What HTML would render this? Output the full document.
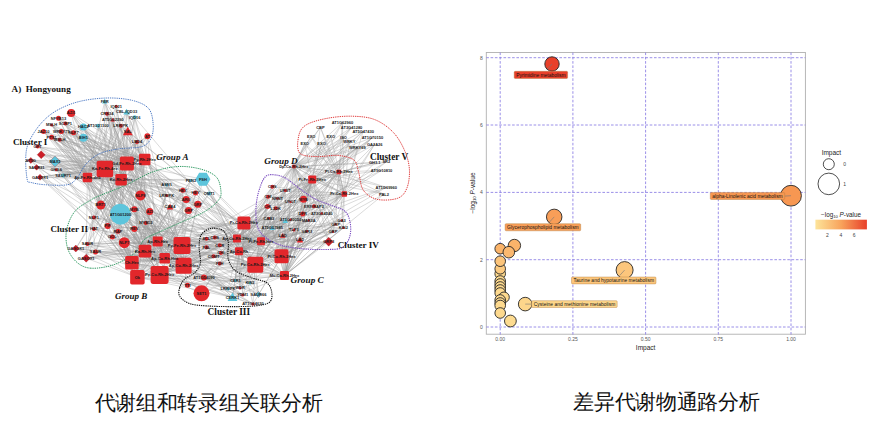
<!DOCTYPE html>
<html><head><meta charset="utf-8"><style>
html,body{margin:0;padding:0;background:#fff;width:877px;height:433px;overflow:hidden}
svg{position:absolute;left:0;top:0}
.cap{position:absolute;font-family:"Liberation Sans",sans-serif;font-size:21px;letter-spacing:-0.3px;font-weight:300;color:#111;white-space:nowrap;line-height:1}
</style></head><body>
<svg width="877" height="433" viewBox="0 0 877 433">
<g stroke="#9a9a9a" stroke-width="0.5" stroke-opacity="0.72">
<line x1="71.2" y1="113.1" x2="87.4" y2="177.4"/>
<line x1="71.2" y1="113.1" x2="126.9" y2="163.6"/>
<line x1="71.2" y1="113.1" x2="144.7" y2="159.6"/>
<line x1="71.2" y1="113.1" x2="104.9" y2="168.9"/>
<line x1="71.2" y1="113.1" x2="145.0" y2="251.2"/>
<line x1="71.2" y1="113.1" x2="182.0" y2="245.5"/>
<line x1="71.2" y1="113.1" x2="121.1" y2="179.7"/>
<line x1="58.5" y1="118.2" x2="87.4" y2="177.4"/>
<line x1="58.5" y1="118.2" x2="126.9" y2="163.6"/>
<line x1="58.5" y1="118.2" x2="144.7" y2="159.6"/>
<line x1="58.5" y1="118.2" x2="131.9" y2="262.8"/>
<line x1="58.5" y1="118.2" x2="104.9" y2="168.9"/>
<line x1="58.5" y1="118.2" x2="121.1" y2="179.7"/>
<line x1="65.4" y1="123.5" x2="87.4" y2="177.4"/>
<line x1="65.4" y1="123.5" x2="126.9" y2="163.6"/>
<line x1="65.4" y1="123.5" x2="159.6" y2="275.0"/>
<line x1="65.4" y1="123.5" x2="144.7" y2="159.6"/>
<line x1="65.4" y1="123.5" x2="104.9" y2="168.9"/>
<line x1="65.4" y1="123.5" x2="121.1" y2="179.7"/>
<line x1="61.3" y1="131.6" x2="87.4" y2="177.4"/>
<line x1="61.3" y1="131.6" x2="126.9" y2="163.6"/>
<line x1="61.3" y1="131.6" x2="144.7" y2="159.6"/>
<line x1="61.3" y1="131.6" x2="131.9" y2="262.8"/>
<line x1="61.3" y1="131.6" x2="104.9" y2="168.9"/>
<line x1="61.3" y1="131.6" x2="182.0" y2="245.5"/>
<line x1="61.3" y1="131.6" x2="121.1" y2="179.7"/>
<line x1="73.5" y1="132.7" x2="126.9" y2="163.6"/>
<line x1="73.5" y1="132.7" x2="87.4" y2="177.4"/>
<line x1="73.5" y1="132.7" x2="144.7" y2="159.6"/>
<line x1="73.5" y1="132.7" x2="104.9" y2="168.9"/>
<line x1="73.5" y1="132.7" x2="157.7" y2="241.5"/>
<line x1="73.5" y1="132.7" x2="121.1" y2="179.7"/>
<line x1="73.5" y1="132.7" x2="183.6" y2="265.8"/>
<line x1="43.5" y1="131.6" x2="126.9" y2="163.6"/>
<line x1="43.5" y1="131.6" x2="159.6" y2="275.0"/>
<line x1="43.5" y1="131.6" x2="87.4" y2="177.4"/>
<line x1="43.5" y1="131.6" x2="144.7" y2="159.6"/>
<line x1="43.5" y1="131.6" x2="104.9" y2="168.9"/>
<line x1="43.5" y1="131.6" x2="182.0" y2="245.5"/>
<line x1="43.5" y1="131.6" x2="183.6" y2="265.8"/>
<line x1="59.7" y1="139.7" x2="87.4" y2="177.4"/>
<line x1="59.7" y1="139.7" x2="126.9" y2="163.6"/>
<line x1="59.7" y1="139.7" x2="144.7" y2="159.6"/>
<line x1="59.7" y1="139.7" x2="131.9" y2="262.8"/>
<line x1="59.7" y1="139.7" x2="104.9" y2="168.9"/>
<line x1="59.7" y1="139.7" x2="145.0" y2="251.2"/>
<line x1="59.7" y1="139.7" x2="121.1" y2="179.7"/>
<line x1="59.7" y1="139.7" x2="183.6" y2="265.8"/>
<line x1="51.6" y1="137.3" x2="126.9" y2="163.6"/>
<line x1="51.6" y1="137.3" x2="159.6" y2="275.0"/>
<line x1="51.6" y1="137.3" x2="87.4" y2="177.4"/>
<line x1="51.6" y1="137.3" x2="144.7" y2="159.6"/>
<line x1="51.6" y1="137.3" x2="104.9" y2="168.9"/>
<line x1="51.6" y1="137.3" x2="121.1" y2="179.7"/>
<line x1="51.6" y1="137.3" x2="164.7" y2="258.2"/>
<line x1="51.6" y1="137.3" x2="183.6" y2="265.8"/>
<line x1="51.6" y1="125.1" x2="126.9" y2="163.6"/>
<line x1="51.6" y1="125.1" x2="87.4" y2="177.4"/>
<line x1="51.6" y1="125.1" x2="144.7" y2="159.6"/>
<line x1="51.6" y1="125.1" x2="104.9" y2="168.9"/>
<line x1="51.6" y1="125.1" x2="157.7" y2="241.5"/>
<line x1="51.6" y1="125.1" x2="145.0" y2="251.2"/>
<line x1="51.6" y1="125.1" x2="121.1" y2="179.7"/>
<line x1="51.6" y1="125.1" x2="183.6" y2="265.8"/>
<line x1="83.4" y1="127.0" x2="126.9" y2="163.6"/>
<line x1="83.4" y1="127.0" x2="144.7" y2="159.6"/>
<line x1="83.4" y1="127.0" x2="104.9" y2="168.9"/>
<line x1="83.4" y1="127.0" x2="145.0" y2="251.2"/>
<line x1="83.4" y1="127.0" x2="182.0" y2="245.5"/>
<line x1="83.4" y1="127.0" x2="121.1" y2="179.7"/>
<line x1="83.4" y1="127.0" x2="137.4" y2="277.3"/>
<line x1="83.4" y1="137.8" x2="87.4" y2="177.4"/>
<line x1="83.4" y1="137.8" x2="159.6" y2="275.0"/>
<line x1="83.4" y1="137.8" x2="126.9" y2="163.6"/>
<line x1="83.4" y1="137.8" x2="144.7" y2="159.6"/>
<line x1="83.4" y1="137.8" x2="104.9" y2="168.9"/>
<line x1="83.4" y1="137.8" x2="121.1" y2="179.7"/>
<line x1="83.4" y1="137.8" x2="164.7" y2="258.2"/>
<line x1="104.7" y1="101.5" x2="126.9" y2="163.6"/>
<line x1="104.7" y1="101.5" x2="87.4" y2="177.4"/>
<line x1="104.7" y1="101.5" x2="144.7" y2="159.6"/>
<line x1="104.7" y1="101.5" x2="104.9" y2="168.9"/>
<line x1="104.7" y1="101.5" x2="157.7" y2="241.5"/>
<line x1="104.7" y1="101.5" x2="121.1" y2="179.7"/>
<line x1="116.2" y1="106.2" x2="87.4" y2="177.4"/>
<line x1="116.2" y1="106.2" x2="126.9" y2="163.6"/>
<line x1="116.2" y1="106.2" x2="144.7" y2="159.6"/>
<line x1="116.2" y1="106.2" x2="104.9" y2="168.9"/>
<line x1="116.2" y1="106.2" x2="145.0" y2="251.2"/>
<line x1="116.2" y1="106.2" x2="121.1" y2="179.7"/>
<line x1="126.6" y1="112.0" x2="87.4" y2="177.4"/>
<line x1="126.6" y1="112.0" x2="126.9" y2="163.6"/>
<line x1="126.6" y1="112.0" x2="144.7" y2="159.6"/>
<line x1="126.6" y1="112.0" x2="104.9" y2="168.9"/>
<line x1="126.6" y1="112.0" x2="157.7" y2="241.5"/>
<line x1="126.6" y1="112.0" x2="182.0" y2="245.5"/>
<line x1="126.6" y1="112.0" x2="121.1" y2="179.7"/>
<line x1="134.7" y1="117.3" x2="126.9" y2="163.6"/>
<line x1="134.7" y1="117.3" x2="144.7" y2="159.6"/>
<line x1="134.7" y1="117.3" x2="104.9" y2="168.9"/>
<line x1="134.7" y1="117.3" x2="121.1" y2="179.7"/>
<line x1="134.7" y1="117.3" x2="137.4" y2="277.3"/>
<line x1="134.7" y1="117.3" x2="237.0" y2="238.5"/>
<line x1="134.7" y1="117.3" x2="183.6" y2="265.8"/>
<line x1="107.0" y1="113.8" x2="126.9" y2="163.6"/>
<line x1="107.0" y1="113.8" x2="87.4" y2="177.4"/>
<line x1="107.0" y1="113.8" x2="144.7" y2="159.6"/>
<line x1="107.0" y1="113.8" x2="131.9" y2="262.8"/>
<line x1="107.0" y1="113.8" x2="104.9" y2="168.9"/>
<line x1="107.0" y1="113.8" x2="145.0" y2="251.2"/>
<line x1="107.0" y1="113.8" x2="261.0" y2="241.2"/>
<line x1="107.0" y1="113.8" x2="121.1" y2="179.7"/>
<line x1="107.0" y1="113.8" x2="183.6" y2="265.8"/>
<line x1="112.8" y1="120.0" x2="126.9" y2="163.6"/>
<line x1="112.8" y1="120.0" x2="87.4" y2="177.4"/>
<line x1="112.8" y1="120.0" x2="144.7" y2="159.6"/>
<line x1="112.8" y1="120.0" x2="131.9" y2="262.8"/>
<line x1="112.8" y1="120.0" x2="104.9" y2="168.9"/>
<line x1="112.8" y1="120.0" x2="145.0" y2="251.2"/>
<line x1="112.8" y1="120.0" x2="121.1" y2="179.7"/>
<line x1="98.0" y1="125.8" x2="87.4" y2="177.4"/>
<line x1="98.0" y1="125.8" x2="126.9" y2="163.6"/>
<line x1="98.0" y1="125.8" x2="144.7" y2="159.6"/>
<line x1="98.0" y1="125.8" x2="104.9" y2="168.9"/>
<line x1="98.0" y1="125.8" x2="182.0" y2="245.5"/>
<line x1="98.0" y1="125.8" x2="121.1" y2="179.7"/>
<line x1="98.0" y1="125.8" x2="164.7" y2="258.2"/>
<line x1="120.8" y1="125.8" x2="126.9" y2="163.6"/>
<line x1="120.8" y1="125.8" x2="87.4" y2="177.4"/>
<line x1="120.8" y1="125.8" x2="159.6" y2="275.0"/>
<line x1="120.8" y1="125.8" x2="144.7" y2="159.6"/>
<line x1="120.8" y1="125.8" x2="104.9" y2="168.9"/>
<line x1="120.8" y1="125.8" x2="157.7" y2="241.5"/>
<line x1="120.8" y1="125.8" x2="261.0" y2="241.2"/>
<line x1="120.8" y1="125.8" x2="121.1" y2="179.7"/>
<line x1="127.8" y1="131.6" x2="126.9" y2="163.6"/>
<line x1="127.8" y1="131.6" x2="87.4" y2="177.4"/>
<line x1="127.8" y1="131.6" x2="159.6" y2="275.0"/>
<line x1="127.8" y1="131.6" x2="144.7" y2="159.6"/>
<line x1="127.8" y1="131.6" x2="104.9" y2="168.9"/>
<line x1="127.8" y1="131.6" x2="121.1" y2="179.7"/>
<line x1="147.4" y1="136.2" x2="126.9" y2="163.6"/>
<line x1="147.4" y1="136.2" x2="159.6" y2="275.0"/>
<line x1="147.4" y1="136.2" x2="87.4" y2="177.4"/>
<line x1="147.4" y1="136.2" x2="144.7" y2="159.6"/>
<line x1="147.4" y1="136.2" x2="104.9" y2="168.9"/>
<line x1="147.4" y1="136.2" x2="121.1" y2="179.7"/>
<line x1="147.4" y1="136.2" x2="183.6" y2="265.8"/>
<line x1="137.0" y1="142.0" x2="87.4" y2="177.4"/>
<line x1="137.0" y1="142.0" x2="126.9" y2="163.6"/>
<line x1="137.0" y1="142.0" x2="159.6" y2="275.0"/>
<line x1="137.0" y1="142.0" x2="144.7" y2="159.6"/>
<line x1="137.0" y1="142.0" x2="104.9" y2="168.9"/>
<line x1="137.0" y1="142.0" x2="157.7" y2="241.5"/>
<line x1="137.0" y1="142.0" x2="121.1" y2="179.7"/>
<line x1="37.7" y1="146.6" x2="87.4" y2="177.4"/>
<line x1="37.7" y1="146.6" x2="126.9" y2="163.6"/>
<line x1="37.7" y1="146.6" x2="144.7" y2="159.6"/>
<line x1="37.7" y1="146.6" x2="104.9" y2="168.9"/>
<line x1="37.7" y1="146.6" x2="157.7" y2="241.5"/>
<line x1="37.7" y1="146.6" x2="121.1" y2="179.7"/>
<line x1="41.2" y1="154.7" x2="87.4" y2="177.4"/>
<line x1="41.2" y1="154.7" x2="126.9" y2="163.6"/>
<line x1="41.2" y1="154.7" x2="159.6" y2="275.0"/>
<line x1="41.2" y1="154.7" x2="144.7" y2="159.6"/>
<line x1="41.2" y1="154.7" x2="104.9" y2="168.9"/>
<line x1="41.2" y1="154.7" x2="121.1" y2="179.7"/>
<line x1="30.8" y1="160.4" x2="87.4" y2="177.4"/>
<line x1="30.8" y1="160.4" x2="126.9" y2="163.6"/>
<line x1="30.8" y1="160.4" x2="144.7" y2="159.6"/>
<line x1="30.8" y1="160.4" x2="104.9" y2="168.9"/>
<line x1="30.8" y1="160.4" x2="145.0" y2="251.2"/>
<line x1="30.8" y1="160.4" x2="261.0" y2="241.2"/>
<line x1="30.8" y1="160.4" x2="121.1" y2="179.7"/>
<line x1="30.8" y1="160.4" x2="137.4" y2="277.3"/>
<line x1="55.0" y1="161.6" x2="126.9" y2="163.6"/>
<line x1="55.0" y1="161.6" x2="87.4" y2="177.4"/>
<line x1="55.0" y1="161.6" x2="144.7" y2="159.6"/>
<line x1="55.0" y1="161.6" x2="104.9" y2="168.9"/>
<line x1="55.0" y1="161.6" x2="182.0" y2="245.5"/>
<line x1="55.0" y1="161.6" x2="121.1" y2="179.7"/>
<line x1="55.0" y1="161.6" x2="137.4" y2="277.3"/>
<line x1="55.0" y1="161.6" x2="183.6" y2="265.8"/>
<line x1="36.6" y1="167.4" x2="126.9" y2="163.6"/>
<line x1="36.6" y1="167.4" x2="87.4" y2="177.4"/>
<line x1="36.6" y1="167.4" x2="144.7" y2="159.6"/>
<line x1="36.6" y1="167.4" x2="104.9" y2="168.9"/>
<line x1="36.6" y1="167.4" x2="182.0" y2="245.5"/>
<line x1="36.6" y1="167.4" x2="121.1" y2="179.7"/>
<line x1="56.2" y1="169.7" x2="126.9" y2="163.6"/>
<line x1="56.2" y1="169.7" x2="87.4" y2="177.4"/>
<line x1="56.2" y1="169.7" x2="144.7" y2="159.6"/>
<line x1="56.2" y1="169.7" x2="104.9" y2="168.9"/>
<line x1="56.2" y1="169.7" x2="145.0" y2="251.2"/>
<line x1="56.2" y1="169.7" x2="121.1" y2="179.7"/>
<line x1="56.2" y1="169.7" x2="284.5" y2="275.5"/>
<line x1="63.1" y1="175.5" x2="87.4" y2="177.4"/>
<line x1="63.1" y1="175.5" x2="126.9" y2="163.6"/>
<line x1="63.1" y1="175.5" x2="144.7" y2="159.6"/>
<line x1="63.1" y1="175.5" x2="104.9" y2="168.9"/>
<line x1="63.1" y1="175.5" x2="121.1" y2="179.7"/>
<line x1="63.1" y1="175.5" x2="137.4" y2="277.3"/>
<line x1="40.0" y1="177.3" x2="87.4" y2="177.4"/>
<line x1="40.0" y1="177.3" x2="126.9" y2="163.6"/>
<line x1="40.0" y1="177.3" x2="159.6" y2="275.0"/>
<line x1="40.0" y1="177.3" x2="131.9" y2="262.8"/>
<line x1="40.0" y1="177.3" x2="144.7" y2="159.6"/>
<line x1="40.0" y1="177.3" x2="104.9" y2="168.9"/>
<line x1="40.0" y1="177.3" x2="182.0" y2="245.5"/>
<line x1="40.0" y1="177.3" x2="121.1" y2="179.7"/>
<line x1="40.0" y1="177.3" x2="164.7" y2="258.2"/>
<line x1="120.4" y1="214.2" x2="87.4" y2="177.4"/>
<line x1="120.4" y1="214.2" x2="126.9" y2="163.6"/>
<line x1="120.4" y1="214.2" x2="159.6" y2="275.0"/>
<line x1="120.4" y1="214.2" x2="131.9" y2="262.8"/>
<line x1="120.4" y1="214.2" x2="145.0" y2="251.2"/>
<line x1="120.4" y1="214.2" x2="182.0" y2="245.5"/>
<line x1="120.4" y1="214.2" x2="121.1" y2="179.7"/>
<line x1="120.4" y1="214.2" x2="164.7" y2="258.2"/>
<line x1="140.5" y1="195.4" x2="87.4" y2="177.4"/>
<line x1="140.5" y1="195.4" x2="159.6" y2="275.0"/>
<line x1="140.5" y1="195.4" x2="144.7" y2="159.6"/>
<line x1="140.5" y1="195.4" x2="104.9" y2="168.9"/>
<line x1="140.5" y1="195.4" x2="145.0" y2="251.2"/>
<line x1="140.5" y1="195.4" x2="157.7" y2="241.5"/>
<line x1="140.5" y1="195.4" x2="121.1" y2="179.7"/>
<line x1="140.5" y1="195.4" x2="137.4" y2="277.3"/>
<line x1="140.5" y1="195.4" x2="164.7" y2="258.2"/>
<line x1="100.8" y1="205.1" x2="126.9" y2="163.6"/>
<line x1="100.8" y1="205.1" x2="131.9" y2="262.8"/>
<line x1="100.8" y1="205.1" x2="281.5" y2="256.3"/>
<line x1="100.8" y1="205.1" x2="104.9" y2="168.9"/>
<line x1="100.8" y1="205.1" x2="157.7" y2="241.5"/>
<line x1="100.8" y1="205.1" x2="182.0" y2="245.5"/>
<line x1="100.8" y1="205.1" x2="121.1" y2="179.7"/>
<line x1="134.3" y1="209.3" x2="126.9" y2="163.6"/>
<line x1="134.3" y1="209.3" x2="159.6" y2="275.0"/>
<line x1="134.3" y1="209.3" x2="145.0" y2="251.2"/>
<line x1="134.3" y1="209.3" x2="157.7" y2="241.5"/>
<line x1="134.3" y1="209.3" x2="182.0" y2="245.5"/>
<line x1="134.3" y1="209.3" x2="121.1" y2="179.7"/>
<line x1="134.3" y1="209.3" x2="237.0" y2="238.5"/>
<line x1="149.7" y1="211.6" x2="126.9" y2="163.6"/>
<line x1="149.7" y1="211.6" x2="131.9" y2="262.8"/>
<line x1="149.7" y1="211.6" x2="281.5" y2="256.3"/>
<line x1="149.7" y1="211.6" x2="145.0" y2="251.2"/>
<line x1="149.7" y1="211.6" x2="261.0" y2="241.2"/>
<line x1="149.7" y1="211.6" x2="137.4" y2="277.3"/>
<line x1="93.9" y1="217.4" x2="126.9" y2="163.6"/>
<line x1="93.9" y1="217.4" x2="87.4" y2="177.4"/>
<line x1="93.9" y1="217.4" x2="144.7" y2="159.6"/>
<line x1="93.9" y1="217.4" x2="131.9" y2="262.8"/>
<line x1="93.9" y1="217.4" x2="281.5" y2="256.3"/>
<line x1="93.9" y1="217.4" x2="261.0" y2="241.2"/>
<line x1="93.9" y1="217.4" x2="182.0" y2="245.5"/>
<line x1="93.9" y1="217.4" x2="137.4" y2="277.3"/>
<line x1="93.9" y1="217.4" x2="183.6" y2="265.8"/>
<line x1="145.8" y1="223.1" x2="126.9" y2="163.6"/>
<line x1="145.8" y1="223.1" x2="131.9" y2="262.8"/>
<line x1="145.8" y1="223.1" x2="104.9" y2="168.9"/>
<line x1="145.8" y1="223.1" x2="145.0" y2="251.2"/>
<line x1="145.8" y1="223.1" x2="255.3" y2="264.7"/>
<line x1="145.8" y1="223.1" x2="182.0" y2="245.5"/>
<line x1="145.8" y1="223.1" x2="137.4" y2="277.3"/>
<line x1="145.8" y1="223.1" x2="164.7" y2="258.2"/>
<line x1="145.8" y1="223.1" x2="183.6" y2="265.8"/>
<line x1="107.7" y1="225.9" x2="126.9" y2="163.6"/>
<line x1="107.7" y1="225.9" x2="87.4" y2="177.4"/>
<line x1="107.7" y1="225.9" x2="144.7" y2="159.6"/>
<line x1="107.7" y1="225.9" x2="261.0" y2="241.2"/>
<line x1="107.7" y1="225.9" x2="121.1" y2="179.7"/>
<line x1="107.7" y1="225.9" x2="137.4" y2="277.3"/>
<line x1="93.9" y1="228.9" x2="243.9" y2="223.0"/>
<line x1="93.9" y1="228.9" x2="104.9" y2="168.9"/>
<line x1="93.9" y1="228.9" x2="145.0" y2="251.2"/>
<line x1="93.9" y1="228.9" x2="182.0" y2="245.5"/>
<line x1="93.9" y1="228.9" x2="255.3" y2="264.7"/>
<line x1="93.9" y1="228.9" x2="121.1" y2="179.7"/>
<line x1="118.0" y1="231.2" x2="126.9" y2="163.6"/>
<line x1="118.0" y1="231.2" x2="87.4" y2="177.4"/>
<line x1="118.0" y1="231.2" x2="131.9" y2="262.8"/>
<line x1="118.0" y1="231.2" x2="144.7" y2="159.6"/>
<line x1="118.0" y1="231.2" x2="243.9" y2="223.0"/>
<line x1="118.0" y1="231.2" x2="104.9" y2="168.9"/>
<line x1="118.0" y1="231.2" x2="145.0" y2="251.2"/>
<line x1="118.0" y1="231.2" x2="182.0" y2="245.5"/>
<line x1="118.0" y1="231.2" x2="164.7" y2="258.2"/>
<line x1="134.3" y1="228.9" x2="87.4" y2="177.4"/>
<line x1="134.3" y1="228.9" x2="144.7" y2="159.6"/>
<line x1="134.3" y1="228.9" x2="131.9" y2="262.8"/>
<line x1="134.3" y1="228.9" x2="104.9" y2="168.9"/>
<line x1="134.3" y1="228.9" x2="145.0" y2="251.2"/>
<line x1="134.3" y1="228.9" x2="157.7" y2="241.5"/>
<line x1="134.3" y1="228.9" x2="239.0" y2="251.2"/>
<line x1="134.3" y1="228.9" x2="137.4" y2="277.3"/>
<line x1="134.3" y1="228.9" x2="183.6" y2="265.8"/>
<line x1="112.3" y1="237.0" x2="87.4" y2="177.4"/>
<line x1="112.3" y1="237.0" x2="126.9" y2="163.6"/>
<line x1="112.3" y1="237.0" x2="131.9" y2="262.8"/>
<line x1="112.3" y1="237.0" x2="144.7" y2="159.6"/>
<line x1="112.3" y1="237.0" x2="243.9" y2="223.0"/>
<line x1="112.3" y1="237.0" x2="145.0" y2="251.2"/>
<line x1="112.3" y1="237.0" x2="137.4" y2="277.3"/>
<line x1="124.3" y1="242.7" x2="131.9" y2="262.8"/>
<line x1="124.3" y1="242.7" x2="144.7" y2="159.6"/>
<line x1="124.3" y1="242.7" x2="104.9" y2="168.9"/>
<line x1="124.3" y1="242.7" x2="145.0" y2="251.2"/>
<line x1="124.3" y1="242.7" x2="239.0" y2="251.2"/>
<line x1="124.3" y1="242.7" x2="182.0" y2="245.5"/>
<line x1="124.3" y1="242.7" x2="237.0" y2="238.5"/>
<line x1="124.3" y1="242.7" x2="164.7" y2="258.2"/>
<line x1="124.3" y1="242.7" x2="183.6" y2="265.8"/>
<line x1="87.4" y1="243.9" x2="284.5" y2="275.5"/>
<line x1="87.4" y1="243.9" x2="144.7" y2="159.6"/>
<line x1="87.4" y1="243.9" x2="243.9" y2="223.0"/>
<line x1="87.4" y1="243.9" x2="104.9" y2="168.9"/>
<line x1="87.4" y1="243.9" x2="261.0" y2="241.2"/>
<line x1="87.4" y1="243.9" x2="121.1" y2="179.7"/>
<line x1="87.4" y1="243.9" x2="137.4" y2="277.3"/>
<line x1="87.4" y1="243.9" x2="237.0" y2="238.5"/>
<line x1="87.4" y1="243.9" x2="183.6" y2="265.8"/>
<line x1="75.8" y1="248.5" x2="126.9" y2="163.6"/>
<line x1="75.8" y1="248.5" x2="159.6" y2="275.0"/>
<line x1="75.8" y1="248.5" x2="243.9" y2="223.0"/>
<line x1="75.8" y1="248.5" x2="145.0" y2="251.2"/>
<line x1="75.8" y1="248.5" x2="157.7" y2="241.5"/>
<line x1="75.8" y1="248.5" x2="121.1" y2="179.7"/>
<line x1="75.8" y1="248.5" x2="137.4" y2="277.3"/>
<line x1="75.8" y1="248.5" x2="284.5" y2="275.5"/>
<line x1="75.8" y1="248.5" x2="164.7" y2="258.2"/>
<line x1="95.5" y1="252.0" x2="126.9" y2="163.6"/>
<line x1="95.5" y1="252.0" x2="87.4" y2="177.4"/>
<line x1="95.5" y1="252.0" x2="144.7" y2="159.6"/>
<line x1="95.5" y1="252.0" x2="131.9" y2="262.8"/>
<line x1="95.5" y1="252.0" x2="145.0" y2="251.2"/>
<line x1="95.5" y1="252.0" x2="182.0" y2="245.5"/>
<line x1="95.5" y1="252.0" x2="121.1" y2="179.7"/>
<line x1="95.5" y1="252.0" x2="164.7" y2="258.2"/>
<line x1="95.5" y1="252.0" x2="183.6" y2="265.8"/>
<line x1="86.2" y1="258.2" x2="87.4" y2="177.4"/>
<line x1="86.2" y1="258.2" x2="104.9" y2="168.9"/>
<line x1="86.2" y1="258.2" x2="157.7" y2="241.5"/>
<line x1="86.2" y1="258.2" x2="239.0" y2="251.2"/>
<line x1="86.2" y1="258.2" x2="255.3" y2="264.7"/>
<line x1="86.2" y1="258.2" x2="182.0" y2="245.5"/>
<line x1="86.2" y1="258.2" x2="121.1" y2="179.7"/>
<line x1="86.2" y1="258.2" x2="137.4" y2="277.3"/>
<line x1="86.2" y1="258.2" x2="237.0" y2="238.5"/>
<line x1="202.9" y1="179.3" x2="126.9" y2="163.6"/>
<line x1="202.9" y1="179.3" x2="159.6" y2="275.0"/>
<line x1="202.9" y1="179.3" x2="281.5" y2="256.3"/>
<line x1="202.9" y1="179.3" x2="243.9" y2="223.0"/>
<line x1="202.9" y1="179.3" x2="255.3" y2="264.7"/>
<line x1="202.9" y1="179.3" x2="239.0" y2="251.2"/>
<line x1="202.9" y1="179.3" x2="121.1" y2="179.7"/>
<line x1="202.9" y1="179.3" x2="237.0" y2="238.5"/>
<line x1="202.9" y1="179.3" x2="183.6" y2="265.8"/>
<line x1="190.9" y1="180.4" x2="131.9" y2="262.8"/>
<line x1="190.9" y1="180.4" x2="144.7" y2="159.6"/>
<line x1="190.9" y1="180.4" x2="281.5" y2="256.3"/>
<line x1="190.9" y1="180.4" x2="145.0" y2="251.2"/>
<line x1="190.9" y1="180.4" x2="121.1" y2="179.7"/>
<line x1="190.9" y1="180.4" x2="164.7" y2="258.2"/>
<line x1="190.9" y1="180.4" x2="237.0" y2="238.5"/>
<line x1="166.6" y1="185.0" x2="126.9" y2="163.6"/>
<line x1="166.6" y1="185.0" x2="87.4" y2="177.4"/>
<line x1="166.6" y1="185.0" x2="243.9" y2="223.0"/>
<line x1="166.6" y1="185.0" x2="104.9" y2="168.9"/>
<line x1="166.6" y1="185.0" x2="157.7" y2="241.5"/>
<line x1="166.6" y1="185.0" x2="239.0" y2="251.2"/>
<line x1="166.6" y1="185.0" x2="121.1" y2="179.7"/>
<line x1="166.6" y1="185.0" x2="237.0" y2="238.5"/>
<line x1="166.6" y1="185.0" x2="183.6" y2="265.8"/>
<line x1="182.8" y1="190.3" x2="126.9" y2="163.6"/>
<line x1="182.8" y1="190.3" x2="87.4" y2="177.4"/>
<line x1="182.8" y1="190.3" x2="144.7" y2="159.6"/>
<line x1="182.8" y1="190.3" x2="131.9" y2="262.8"/>
<line x1="182.8" y1="190.3" x2="243.9" y2="223.0"/>
<line x1="182.8" y1="190.3" x2="255.3" y2="264.7"/>
<line x1="182.8" y1="190.3" x2="182.0" y2="245.5"/>
<line x1="182.8" y1="190.3" x2="284.5" y2="275.5"/>
<line x1="182.8" y1="190.3" x2="183.6" y2="265.8"/>
<line x1="195.5" y1="193.1" x2="87.4" y2="177.4"/>
<line x1="195.5" y1="193.1" x2="126.9" y2="163.6"/>
<line x1="195.5" y1="193.1" x2="131.9" y2="262.8"/>
<line x1="195.5" y1="193.1" x2="255.3" y2="264.7"/>
<line x1="195.5" y1="193.1" x2="182.0" y2="245.5"/>
<line x1="195.5" y1="193.1" x2="121.1" y2="179.7"/>
<line x1="195.5" y1="193.1" x2="237.0" y2="238.5"/>
<line x1="209.3" y1="193.6" x2="126.9" y2="163.6"/>
<line x1="209.3" y1="193.6" x2="104.9" y2="168.9"/>
<line x1="209.3" y1="193.6" x2="239.0" y2="251.2"/>
<line x1="209.3" y1="193.6" x2="255.3" y2="264.7"/>
<line x1="209.3" y1="193.6" x2="137.4" y2="277.3"/>
<line x1="209.3" y1="193.6" x2="284.5" y2="275.5"/>
<line x1="209.3" y1="193.6" x2="164.7" y2="258.2"/>
<line x1="186.2" y1="199.6" x2="87.4" y2="177.4"/>
<line x1="186.2" y1="199.6" x2="126.9" y2="163.6"/>
<line x1="186.2" y1="199.6" x2="144.7" y2="159.6"/>
<line x1="186.2" y1="199.6" x2="243.9" y2="223.0"/>
<line x1="186.2" y1="199.6" x2="104.9" y2="168.9"/>
<line x1="186.2" y1="199.6" x2="239.0" y2="251.2"/>
<line x1="186.2" y1="199.6" x2="137.4" y2="277.3"/>
<line x1="186.2" y1="199.6" x2="164.7" y2="258.2"/>
<line x1="186.2" y1="199.6" x2="183.6" y2="265.8"/>
<line x1="197.8" y1="204.2" x2="87.4" y2="177.4"/>
<line x1="197.8" y1="204.2" x2="126.9" y2="163.6"/>
<line x1="197.8" y1="204.2" x2="144.7" y2="159.6"/>
<line x1="197.8" y1="204.2" x2="145.0" y2="251.2"/>
<line x1="197.8" y1="204.2" x2="121.1" y2="179.7"/>
<line x1="197.8" y1="204.2" x2="137.4" y2="277.3"/>
<line x1="197.8" y1="204.2" x2="183.6" y2="265.8"/>
<line x1="170.0" y1="207.0" x2="126.9" y2="163.6"/>
<line x1="170.0" y1="207.0" x2="104.9" y2="168.9"/>
<line x1="170.0" y1="207.0" x2="145.0" y2="251.2"/>
<line x1="170.0" y1="207.0" x2="239.0" y2="251.2"/>
<line x1="170.0" y1="207.0" x2="137.4" y2="277.3"/>
<line x1="170.0" y1="207.0" x2="237.0" y2="238.5"/>
<line x1="170.0" y1="207.0" x2="164.7" y2="258.2"/>
<line x1="170.0" y1="207.0" x2="183.6" y2="265.8"/>
<line x1="188.5" y1="210.4" x2="126.9" y2="163.6"/>
<line x1="188.5" y1="210.4" x2="159.6" y2="275.0"/>
<line x1="188.5" y1="210.4" x2="144.7" y2="159.6"/>
<line x1="188.5" y1="210.4" x2="281.5" y2="256.3"/>
<line x1="188.5" y1="210.4" x2="145.0" y2="251.2"/>
<line x1="188.5" y1="210.4" x2="157.7" y2="241.5"/>
<line x1="188.5" y1="210.4" x2="121.1" y2="179.7"/>
<line x1="188.5" y1="210.4" x2="137.4" y2="277.3"/>
<line x1="166.6" y1="195.4" x2="126.9" y2="163.6"/>
<line x1="166.6" y1="195.4" x2="131.9" y2="262.8"/>
<line x1="166.6" y1="195.4" x2="144.7" y2="159.6"/>
<line x1="166.6" y1="195.4" x2="281.5" y2="256.3"/>
<line x1="166.6" y1="195.4" x2="243.9" y2="223.0"/>
<line x1="166.6" y1="195.4" x2="104.9" y2="168.9"/>
<line x1="166.6" y1="195.4" x2="145.0" y2="251.2"/>
<line x1="166.6" y1="195.4" x2="137.4" y2="277.3"/>
<line x1="166.6" y1="195.4" x2="237.0" y2="238.5"/>
<line x1="201.5" y1="293.3" x2="159.6" y2="275.0"/>
<line x1="201.5" y1="293.3" x2="281.5" y2="256.3"/>
<line x1="201.5" y1="293.3" x2="243.9" y2="223.0"/>
<line x1="201.5" y1="293.3" x2="157.7" y2="241.5"/>
<line x1="201.5" y1="293.3" x2="164.7" y2="258.2"/>
<line x1="201.5" y1="293.3" x2="237.0" y2="238.5"/>
<line x1="203.9" y1="277.5" x2="159.6" y2="275.0"/>
<line x1="203.9" y1="277.5" x2="284.5" y2="275.5"/>
<line x1="203.9" y1="277.5" x2="131.9" y2="262.8"/>
<line x1="203.9" y1="277.5" x2="243.9" y2="223.0"/>
<line x1="203.9" y1="277.5" x2="145.0" y2="251.2"/>
<line x1="203.9" y1="277.5" x2="239.0" y2="251.2"/>
<line x1="203.9" y1="277.5" x2="255.3" y2="264.7"/>
<line x1="203.9" y1="277.5" x2="237.0" y2="238.5"/>
<line x1="203.9" y1="277.5" x2="183.6" y2="265.8"/>
<line x1="187.5" y1="285.3" x2="281.5" y2="256.3"/>
<line x1="187.5" y1="285.3" x2="157.7" y2="241.5"/>
<line x1="187.5" y1="285.3" x2="145.0" y2="251.2"/>
<line x1="187.5" y1="285.3" x2="239.0" y2="251.2"/>
<line x1="187.5" y1="285.3" x2="137.4" y2="277.3"/>
<line x1="187.5" y1="285.3" x2="284.5" y2="275.5"/>
<line x1="187.5" y1="285.3" x2="183.6" y2="265.8"/>
<line x1="206.4" y1="238.8" x2="284.5" y2="275.5"/>
<line x1="206.4" y1="238.8" x2="281.5" y2="256.3"/>
<line x1="206.4" y1="238.8" x2="243.9" y2="223.0"/>
<line x1="206.4" y1="238.8" x2="157.7" y2="241.5"/>
<line x1="206.4" y1="238.8" x2="239.0" y2="251.2"/>
<line x1="206.4" y1="238.8" x2="164.7" y2="258.2"/>
<line x1="206.4" y1="238.8" x2="237.0" y2="238.5"/>
<line x1="214.8" y1="237.5" x2="159.6" y2="275.0"/>
<line x1="214.8" y1="237.5" x2="131.9" y2="262.8"/>
<line x1="214.8" y1="237.5" x2="157.7" y2="241.5"/>
<line x1="214.8" y1="237.5" x2="261.0" y2="241.2"/>
<line x1="214.8" y1="237.5" x2="182.0" y2="245.5"/>
<line x1="214.8" y1="237.5" x2="284.5" y2="275.5"/>
<line x1="214.8" y1="237.5" x2="237.0" y2="238.5"/>
<line x1="206.4" y1="247.2" x2="159.6" y2="275.0"/>
<line x1="206.4" y1="247.2" x2="281.5" y2="256.3"/>
<line x1="206.4" y1="247.2" x2="243.9" y2="223.0"/>
<line x1="206.4" y1="247.2" x2="261.0" y2="241.2"/>
<line x1="206.4" y1="247.2" x2="255.3" y2="264.7"/>
<line x1="206.4" y1="247.2" x2="137.4" y2="277.3"/>
<line x1="219.7" y1="245.3" x2="87.4" y2="177.4"/>
<line x1="219.7" y1="245.3" x2="159.6" y2="275.0"/>
<line x1="219.7" y1="245.3" x2="243.9" y2="223.0"/>
<line x1="219.7" y1="245.3" x2="157.7" y2="241.5"/>
<line x1="219.7" y1="245.3" x2="182.0" y2="245.5"/>
<line x1="219.7" y1="245.3" x2="239.0" y2="251.2"/>
<line x1="219.7" y1="245.3" x2="237.0" y2="238.5"/>
<line x1="219.7" y1="245.3" x2="164.7" y2="258.2"/>
<line x1="219.7" y1="245.3" x2="183.6" y2="265.8"/>
<line x1="213.6" y1="256.2" x2="159.6" y2="275.0"/>
<line x1="213.6" y1="256.2" x2="131.9" y2="262.8"/>
<line x1="213.6" y1="256.2" x2="281.5" y2="256.3"/>
<line x1="213.6" y1="256.2" x2="145.0" y2="251.2"/>
<line x1="213.6" y1="256.2" x2="157.7" y2="241.5"/>
<line x1="213.6" y1="256.2" x2="255.3" y2="264.7"/>
<line x1="213.6" y1="256.2" x2="261.0" y2="241.2"/>
<line x1="213.6" y1="256.2" x2="137.4" y2="277.3"/>
<line x1="213.6" y1="256.2" x2="237.0" y2="238.5"/>
<line x1="220.9" y1="253.1" x2="159.6" y2="275.0"/>
<line x1="220.9" y1="253.1" x2="284.5" y2="275.5"/>
<line x1="220.9" y1="253.1" x2="131.9" y2="262.8"/>
<line x1="220.9" y1="253.1" x2="281.5" y2="256.3"/>
<line x1="220.9" y1="253.1" x2="145.0" y2="251.2"/>
<line x1="220.9" y1="253.1" x2="255.3" y2="264.7"/>
<line x1="220.9" y1="253.1" x2="121.1" y2="179.7"/>
<line x1="220.9" y1="253.1" x2="237.0" y2="238.5"/>
<line x1="219.7" y1="263.5" x2="284.5" y2="275.5"/>
<line x1="219.7" y1="263.5" x2="144.7" y2="159.6"/>
<line x1="219.7" y1="263.5" x2="243.9" y2="223.0"/>
<line x1="219.7" y1="263.5" x2="145.0" y2="251.2"/>
<line x1="219.7" y1="263.5" x2="255.3" y2="264.7"/>
<line x1="219.7" y1="263.5" x2="164.7" y2="258.2"/>
<line x1="232.5" y1="297.4" x2="159.6" y2="275.0"/>
<line x1="232.5" y1="297.4" x2="243.9" y2="223.0"/>
<line x1="232.5" y1="297.4" x2="104.9" y2="168.9"/>
<line x1="232.5" y1="297.4" x2="239.0" y2="251.2"/>
<line x1="232.5" y1="297.4" x2="182.0" y2="245.5"/>
<line x1="232.5" y1="297.4" x2="137.4" y2="277.3"/>
<line x1="232.5" y1="297.4" x2="284.5" y2="275.5"/>
<line x1="232.5" y1="297.4" x2="164.7" y2="258.2"/>
<line x1="235.5" y1="280.5" x2="284.5" y2="275.5"/>
<line x1="235.5" y1="280.5" x2="131.9" y2="262.8"/>
<line x1="235.5" y1="280.5" x2="281.5" y2="256.3"/>
<line x1="235.5" y1="280.5" x2="255.3" y2="264.7"/>
<line x1="235.5" y1="280.5" x2="261.0" y2="241.2"/>
<line x1="235.5" y1="280.5" x2="239.0" y2="251.2"/>
<line x1="235.5" y1="280.5" x2="137.4" y2="277.3"/>
<line x1="235.5" y1="280.5" x2="164.7" y2="258.2"/>
<line x1="235.5" y1="280.5" x2="237.0" y2="238.5"/>
<line x1="250.0" y1="282.9" x2="159.6" y2="275.0"/>
<line x1="250.0" y1="282.9" x2="131.9" y2="262.8"/>
<line x1="250.0" y1="282.9" x2="281.5" y2="256.3"/>
<line x1="250.0" y1="282.9" x2="255.3" y2="264.7"/>
<line x1="250.0" y1="282.9" x2="182.0" y2="245.5"/>
<line x1="250.0" y1="282.9" x2="237.0" y2="238.5"/>
<line x1="258.5" y1="294.5" x2="144.7" y2="159.6"/>
<line x1="258.5" y1="294.5" x2="281.5" y2="256.3"/>
<line x1="258.5" y1="294.5" x2="243.9" y2="223.0"/>
<line x1="258.5" y1="294.5" x2="157.7" y2="241.5"/>
<line x1="258.5" y1="294.5" x2="255.3" y2="264.7"/>
<line x1="258.5" y1="294.5" x2="182.0" y2="245.5"/>
<line x1="258.5" y1="294.5" x2="239.0" y2="251.2"/>
<line x1="258.5" y1="294.5" x2="164.7" y2="258.2"/>
<line x1="242.7" y1="295.0" x2="159.6" y2="275.0"/>
<line x1="242.7" y1="295.0" x2="243.9" y2="223.0"/>
<line x1="242.7" y1="295.0" x2="157.7" y2="241.5"/>
<line x1="242.7" y1="295.0" x2="145.0" y2="251.2"/>
<line x1="242.7" y1="295.0" x2="239.0" y2="251.2"/>
<line x1="242.7" y1="295.0" x2="255.3" y2="264.7"/>
<line x1="242.7" y1="295.0" x2="182.0" y2="245.5"/>
<line x1="242.7" y1="295.0" x2="183.6" y2="265.8"/>
<line x1="253.0" y1="304.0" x2="159.6" y2="275.0"/>
<line x1="253.0" y1="304.0" x2="131.9" y2="262.8"/>
<line x1="253.0" y1="304.0" x2="281.5" y2="256.3"/>
<line x1="253.0" y1="304.0" x2="157.7" y2="241.5"/>
<line x1="253.0" y1="304.0" x2="255.3" y2="264.7"/>
<line x1="253.0" y1="304.0" x2="237.0" y2="238.5"/>
<line x1="253.0" y1="304.0" x2="164.7" y2="258.2"/>
<line x1="253.0" y1="304.0" x2="183.6" y2="265.8"/>
<line x1="228.0" y1="289.0" x2="131.9" y2="262.8"/>
<line x1="228.0" y1="289.0" x2="281.5" y2="256.3"/>
<line x1="228.0" y1="289.0" x2="243.9" y2="223.0"/>
<line x1="228.0" y1="289.0" x2="104.9" y2="168.9"/>
<line x1="228.0" y1="289.0" x2="145.0" y2="251.2"/>
<line x1="228.0" y1="289.0" x2="261.0" y2="241.2"/>
<line x1="228.0" y1="289.0" x2="183.6" y2="265.8"/>
<line x1="240.0" y1="288.0" x2="284.5" y2="275.5"/>
<line x1="240.0" y1="288.0" x2="243.9" y2="223.0"/>
<line x1="240.0" y1="288.0" x2="239.0" y2="251.2"/>
<line x1="240.0" y1="288.0" x2="255.3" y2="264.7"/>
<line x1="240.0" y1="288.0" x2="137.4" y2="277.3"/>
<line x1="240.0" y1="288.0" x2="237.0" y2="238.5"/>
<line x1="272.3" y1="186.8" x2="284.5" y2="275.5"/>
<line x1="272.3" y1="186.8" x2="243.9" y2="223.0"/>
<line x1="272.3" y1="186.8" x2="344.3" y2="194.0"/>
<line x1="272.3" y1="186.8" x2="293.9" y2="166.5"/>
<line x1="272.3" y1="186.8" x2="239.0" y2="251.2"/>
<line x1="272.3" y1="186.8" x2="255.3" y2="264.7"/>
<line x1="272.3" y1="186.8" x2="237.0" y2="238.5"/>
<line x1="285.3" y1="190.6" x2="284.5" y2="275.5"/>
<line x1="285.3" y1="190.6" x2="312.2" y2="179.5"/>
<line x1="285.3" y1="190.6" x2="281.5" y2="256.3"/>
<line x1="285.3" y1="190.6" x2="243.9" y2="223.0"/>
<line x1="285.3" y1="190.6" x2="344.3" y2="194.0"/>
<line x1="285.3" y1="190.6" x2="261.0" y2="241.2"/>
<line x1="285.3" y1="190.6" x2="239.0" y2="251.2"/>
<line x1="285.3" y1="190.6" x2="338.9" y2="172.0"/>
<line x1="285.3" y1="190.6" x2="237.0" y2="238.5"/>
<line x1="268.0" y1="196.7" x2="312.2" y2="179.5"/>
<line x1="268.0" y1="196.7" x2="281.5" y2="256.3"/>
<line x1="268.0" y1="196.7" x2="344.3" y2="194.0"/>
<line x1="268.0" y1="196.7" x2="261.0" y2="241.2"/>
<line x1="268.0" y1="196.7" x2="182.0" y2="245.5"/>
<line x1="268.0" y1="196.7" x2="239.0" y2="251.2"/>
<line x1="268.0" y1="196.7" x2="255.3" y2="264.7"/>
<line x1="268.0" y1="196.7" x2="338.9" y2="172.0"/>
<line x1="268.0" y1="196.7" x2="237.0" y2="238.5"/>
<line x1="277.5" y1="198.4" x2="281.5" y2="256.3"/>
<line x1="277.5" y1="198.4" x2="243.9" y2="223.0"/>
<line x1="277.5" y1="198.4" x2="344.3" y2="194.0"/>
<line x1="277.5" y1="198.4" x2="255.3" y2="264.7"/>
<line x1="277.5" y1="198.4" x2="338.9" y2="172.0"/>
<line x1="277.5" y1="198.4" x2="284.5" y2="275.5"/>
<line x1="277.5" y1="198.4" x2="183.6" y2="265.8"/>
<line x1="290.5" y1="201.9" x2="312.2" y2="179.5"/>
<line x1="290.5" y1="201.9" x2="281.5" y2="256.3"/>
<line x1="290.5" y1="201.9" x2="239.0" y2="251.2"/>
<line x1="290.5" y1="201.9" x2="261.0" y2="241.2"/>
<line x1="290.5" y1="201.9" x2="293.9" y2="166.5"/>
<line x1="290.5" y1="201.9" x2="284.5" y2="275.5"/>
<line x1="303.5" y1="199.3" x2="183.6" y2="265.8"/>
<line x1="303.5" y1="199.3" x2="243.9" y2="223.0"/>
<line x1="303.5" y1="199.3" x2="293.9" y2="166.5"/>
<line x1="303.5" y1="199.3" x2="239.0" y2="251.2"/>
<line x1="303.5" y1="199.3" x2="284.5" y2="275.5"/>
<line x1="303.5" y1="199.3" x2="237.0" y2="238.5"/>
<line x1="314.0" y1="206.2" x2="243.9" y2="223.0"/>
<line x1="314.0" y1="206.2" x2="344.3" y2="194.0"/>
<line x1="314.0" y1="206.2" x2="293.9" y2="166.5"/>
<line x1="314.0" y1="206.2" x2="312.2" y2="179.5"/>
<line x1="314.0" y1="206.2" x2="239.0" y2="251.2"/>
<line x1="314.0" y1="206.2" x2="237.0" y2="238.5"/>
<line x1="267.5" y1="206.5" x2="131.9" y2="262.8"/>
<line x1="267.5" y1="206.5" x2="243.9" y2="223.0"/>
<line x1="267.5" y1="206.5" x2="344.3" y2="194.0"/>
<line x1="267.5" y1="206.5" x2="239.0" y2="251.2"/>
<line x1="267.5" y1="206.5" x2="312.2" y2="179.5"/>
<line x1="267.5" y1="206.5" x2="255.3" y2="264.7"/>
<line x1="275.8" y1="208.3" x2="261.0" y2="241.2"/>
<line x1="275.8" y1="208.3" x2="312.2" y2="179.5"/>
<line x1="275.8" y1="208.3" x2="293.9" y2="166.5"/>
<line x1="275.8" y1="208.3" x2="239.0" y2="251.2"/>
<line x1="275.8" y1="208.3" x2="338.9" y2="172.0"/>
<line x1="275.8" y1="208.3" x2="237.0" y2="238.5"/>
<line x1="302.7" y1="214.0" x2="281.5" y2="256.3"/>
<line x1="302.7" y1="214.0" x2="243.9" y2="223.0"/>
<line x1="302.7" y1="214.0" x2="344.3" y2="194.0"/>
<line x1="302.7" y1="214.0" x2="255.3" y2="264.7"/>
<line x1="302.7" y1="214.0" x2="312.2" y2="179.5"/>
<line x1="302.7" y1="214.0" x2="261.0" y2="241.2"/>
<line x1="302.7" y1="214.0" x2="293.9" y2="166.5"/>
<line x1="302.7" y1="214.0" x2="338.9" y2="172.0"/>
<line x1="321.7" y1="213.5" x2="312.2" y2="179.5"/>
<line x1="321.7" y1="213.5" x2="281.5" y2="256.3"/>
<line x1="321.7" y1="213.5" x2="243.9" y2="223.0"/>
<line x1="321.7" y1="213.5" x2="255.3" y2="264.7"/>
<line x1="321.7" y1="213.5" x2="293.9" y2="166.5"/>
<line x1="321.7" y1="213.5" x2="239.0" y2="251.2"/>
<line x1="321.7" y1="213.5" x2="338.9" y2="172.0"/>
<line x1="321.7" y1="213.5" x2="284.5" y2="275.5"/>
<line x1="268.9" y1="218.3" x2="281.5" y2="256.3"/>
<line x1="268.9" y1="218.3" x2="243.9" y2="223.0"/>
<line x1="268.9" y1="218.3" x2="261.0" y2="241.2"/>
<line x1="268.9" y1="218.3" x2="312.2" y2="179.5"/>
<line x1="268.9" y1="218.3" x2="255.3" y2="264.7"/>
<line x1="268.9" y1="218.3" x2="284.5" y2="275.5"/>
<line x1="285.3" y1="221.0" x2="281.5" y2="256.3"/>
<line x1="285.3" y1="221.0" x2="145.0" y2="251.2"/>
<line x1="285.3" y1="221.0" x2="261.0" y2="241.2"/>
<line x1="285.3" y1="221.0" x2="255.3" y2="264.7"/>
<line x1="285.3" y1="221.0" x2="239.0" y2="251.2"/>
<line x1="285.3" y1="221.0" x2="338.9" y2="172.0"/>
<line x1="290.5" y1="219.7" x2="284.5" y2="275.5"/>
<line x1="290.5" y1="219.7" x2="281.5" y2="256.3"/>
<line x1="290.5" y1="219.7" x2="157.7" y2="241.5"/>
<line x1="290.5" y1="219.7" x2="239.0" y2="251.2"/>
<line x1="290.5" y1="219.7" x2="338.9" y2="172.0"/>
<line x1="290.5" y1="219.7" x2="261.0" y2="241.2"/>
<line x1="290.5" y1="219.7" x2="137.4" y2="277.3"/>
<line x1="290.5" y1="219.7" x2="237.0" y2="238.5"/>
<line x1="308.7" y1="220.4" x2="243.9" y2="223.0"/>
<line x1="308.7" y1="220.4" x2="344.3" y2="194.0"/>
<line x1="308.7" y1="220.4" x2="239.0" y2="251.2"/>
<line x1="308.7" y1="220.4" x2="255.3" y2="264.7"/>
<line x1="308.7" y1="220.4" x2="261.0" y2="241.2"/>
<line x1="308.7" y1="220.4" x2="237.0" y2="238.5"/>
<line x1="272.3" y1="227.9" x2="312.2" y2="179.5"/>
<line x1="272.3" y1="227.9" x2="281.5" y2="256.3"/>
<line x1="272.3" y1="227.9" x2="344.3" y2="194.0"/>
<line x1="272.3" y1="227.9" x2="239.0" y2="251.2"/>
<line x1="272.3" y1="227.9" x2="255.3" y2="264.7"/>
<line x1="272.3" y1="227.9" x2="293.9" y2="166.5"/>
<line x1="272.3" y1="227.9" x2="284.5" y2="275.5"/>
<line x1="294.0" y1="230.1" x2="281.5" y2="256.3"/>
<line x1="294.0" y1="230.1" x2="344.3" y2="194.0"/>
<line x1="294.0" y1="230.1" x2="261.0" y2="241.2"/>
<line x1="294.0" y1="230.1" x2="312.2" y2="179.5"/>
<line x1="294.0" y1="230.1" x2="239.0" y2="251.2"/>
<line x1="294.0" y1="230.1" x2="293.9" y2="166.5"/>
<line x1="294.0" y1="230.1" x2="338.9" y2="172.0"/>
<line x1="294.0" y1="230.1" x2="284.5" y2="275.5"/>
<line x1="307.0" y1="231.3" x2="131.9" y2="262.8"/>
<line x1="307.0" y1="231.3" x2="312.2" y2="179.5"/>
<line x1="307.0" y1="231.3" x2="255.3" y2="264.7"/>
<line x1="307.0" y1="231.3" x2="239.0" y2="251.2"/>
<line x1="307.0" y1="231.3" x2="293.9" y2="166.5"/>
<line x1="307.0" y1="231.3" x2="261.0" y2="241.2"/>
<line x1="307.0" y1="231.3" x2="183.6" y2="265.8"/>
<line x1="341.7" y1="220.4" x2="281.5" y2="256.3"/>
<line x1="341.7" y1="220.4" x2="344.3" y2="194.0"/>
<line x1="341.7" y1="220.4" x2="261.0" y2="241.2"/>
<line x1="341.7" y1="220.4" x2="239.0" y2="251.2"/>
<line x1="341.7" y1="220.4" x2="293.9" y2="166.5"/>
<line x1="341.7" y1="220.4" x2="237.0" y2="238.5"/>
<line x1="335.6" y1="224.4" x2="281.5" y2="256.3"/>
<line x1="335.6" y1="224.4" x2="293.9" y2="166.5"/>
<line x1="335.6" y1="224.4" x2="312.2" y2="179.5"/>
<line x1="335.6" y1="224.4" x2="255.3" y2="264.7"/>
<line x1="335.6" y1="224.4" x2="338.9" y2="172.0"/>
<line x1="335.6" y1="224.4" x2="237.0" y2="238.5"/>
<line x1="343.4" y1="227.9" x2="281.5" y2="256.3"/>
<line x1="343.4" y1="227.9" x2="243.9" y2="223.0"/>
<line x1="343.4" y1="227.9" x2="344.3" y2="194.0"/>
<line x1="343.4" y1="227.9" x2="239.0" y2="251.2"/>
<line x1="343.4" y1="227.9" x2="312.2" y2="179.5"/>
<line x1="343.4" y1="227.9" x2="293.9" y2="166.5"/>
<line x1="343.4" y1="227.9" x2="338.9" y2="172.0"/>
<line x1="343.4" y1="227.9" x2="284.5" y2="275.5"/>
<line x1="343.4" y1="227.9" x2="237.0" y2="238.5"/>
<line x1="333.0" y1="231.8" x2="281.5" y2="256.3"/>
<line x1="333.0" y1="231.8" x2="344.3" y2="194.0"/>
<line x1="333.0" y1="231.8" x2="255.3" y2="264.7"/>
<line x1="333.0" y1="231.8" x2="312.2" y2="179.5"/>
<line x1="333.0" y1="231.8" x2="293.9" y2="166.5"/>
<line x1="333.0" y1="231.8" x2="239.0" y2="251.2"/>
<line x1="333.0" y1="231.8" x2="338.9" y2="172.0"/>
<line x1="333.0" y1="231.8" x2="237.0" y2="238.5"/>
<line x1="282.7" y1="235.7" x2="312.2" y2="179.5"/>
<line x1="282.7" y1="235.7" x2="243.9" y2="223.0"/>
<line x1="282.7" y1="235.7" x2="344.3" y2="194.0"/>
<line x1="282.7" y1="235.7" x2="261.0" y2="241.2"/>
<line x1="282.7" y1="235.7" x2="338.9" y2="172.0"/>
<line x1="282.7" y1="235.7" x2="239.0" y2="251.2"/>
<line x1="282.7" y1="235.7" x2="237.0" y2="238.5"/>
<line x1="300.0" y1="240.0" x2="145.0" y2="251.2"/>
<line x1="300.0" y1="240.0" x2="293.9" y2="166.5"/>
<line x1="300.0" y1="240.0" x2="312.2" y2="179.5"/>
<line x1="300.0" y1="240.0" x2="255.3" y2="264.7"/>
<line x1="300.0" y1="240.0" x2="338.9" y2="172.0"/>
<line x1="300.0" y1="240.0" x2="284.5" y2="275.5"/>
<line x1="300.0" y1="240.0" x2="237.0" y2="238.5"/>
<line x1="328.7" y1="241.7" x2="157.7" y2="241.5"/>
<line x1="328.7" y1="241.7" x2="239.0" y2="251.2"/>
<line x1="328.7" y1="241.7" x2="312.2" y2="179.5"/>
<line x1="328.7" y1="241.7" x2="293.9" y2="166.5"/>
<line x1="328.7" y1="241.7" x2="255.3" y2="264.7"/>
<line x1="328.7" y1="241.7" x2="137.4" y2="277.3"/>
<line x1="328.7" y1="241.7" x2="284.5" y2="275.5"/>
<line x1="290.5" y1="201.9" x2="284.5" y2="275.5"/>
<line x1="303.5" y1="199.3" x2="284.5" y2="275.5"/>
<line x1="314.0" y1="206.2" x2="284.5" y2="275.5"/>
<line x1="302.7" y1="214.0" x2="284.5" y2="275.5"/>
<line x1="302.7" y1="214.0" x2="281.5" y2="256.3"/>
<line x1="321.7" y1="213.5" x2="284.5" y2="275.5"/>
<line x1="321.7" y1="213.5" x2="281.5" y2="256.3"/>
<line x1="307.0" y1="231.3" x2="284.5" y2="275.5"/>
<line x1="307.0" y1="231.3" x2="281.5" y2="256.3"/>
<line x1="341.7" y1="220.4" x2="281.5" y2="256.3"/>
<line x1="335.6" y1="224.4" x2="284.5" y2="275.5"/>
<line x1="335.6" y1="224.4" x2="281.5" y2="256.3"/>
<line x1="343.4" y1="227.9" x2="284.5" y2="275.5"/>
<line x1="333.0" y1="231.8" x2="281.5" y2="256.3"/>
<line x1="300.0" y1="240.0" x2="284.5" y2="275.5"/>
<line x1="320.4" y1="127.3" x2="344.3" y2="194.0"/>
<line x1="320.4" y1="127.3" x2="293.9" y2="166.5"/>
<line x1="320.4" y1="127.3" x2="312.2" y2="179.5"/>
<line x1="320.4" y1="127.3" x2="338.9" y2="172.0"/>
<line x1="320.4" y1="127.3" x2="237.0" y2="238.5"/>
<line x1="342.4" y1="122.6" x2="312.2" y2="179.5"/>
<line x1="342.4" y1="122.6" x2="344.3" y2="194.0"/>
<line x1="342.4" y1="122.6" x2="261.0" y2="241.2"/>
<line x1="342.4" y1="122.6" x2="338.9" y2="172.0"/>
<line x1="342.4" y1="122.6" x2="293.9" y2="166.5"/>
<line x1="351.6" y1="127.3" x2="293.9" y2="166.5"/>
<line x1="351.6" y1="127.3" x2="239.0" y2="251.2"/>
<line x1="351.6" y1="127.3" x2="237.0" y2="238.5"/>
<line x1="351.6" y1="127.3" x2="255.3" y2="264.7"/>
<line x1="363.2" y1="131.2" x2="281.5" y2="256.3"/>
<line x1="363.2" y1="131.2" x2="344.3" y2="194.0"/>
<line x1="363.2" y1="131.2" x2="293.9" y2="166.5"/>
<line x1="363.2" y1="131.2" x2="312.2" y2="179.5"/>
<line x1="363.2" y1="131.2" x2="237.0" y2="238.5"/>
<line x1="311.2" y1="136.3" x2="293.9" y2="166.5"/>
<line x1="311.2" y1="136.3" x2="344.3" y2="194.0"/>
<line x1="311.2" y1="136.3" x2="239.0" y2="251.2"/>
<line x1="311.2" y1="136.3" x2="338.9" y2="172.0"/>
<line x1="330.8" y1="136.5" x2="293.9" y2="166.5"/>
<line x1="330.8" y1="136.5" x2="237.0" y2="238.5"/>
<line x1="330.8" y1="136.5" x2="261.0" y2="241.2"/>
<line x1="330.8" y1="136.5" x2="344.3" y2="194.0"/>
<line x1="343.5" y1="137.4" x2="312.2" y2="179.5"/>
<line x1="343.5" y1="137.4" x2="237.0" y2="238.5"/>
<line x1="343.5" y1="137.4" x2="293.9" y2="166.5"/>
<line x1="343.5" y1="137.4" x2="338.9" y2="172.0"/>
<line x1="372.4" y1="137.6" x2="293.9" y2="166.5"/>
<line x1="372.4" y1="137.6" x2="312.2" y2="179.5"/>
<line x1="372.4" y1="137.6" x2="239.0" y2="251.2"/>
<line x1="372.4" y1="137.6" x2="261.0" y2="241.2"/>
<line x1="372.4" y1="137.6" x2="338.9" y2="172.0"/>
<line x1="372.4" y1="137.6" x2="237.0" y2="238.5"/>
<line x1="349.3" y1="141.6" x2="344.3" y2="194.0"/>
<line x1="349.3" y1="141.6" x2="293.9" y2="166.5"/>
<line x1="349.3" y1="141.6" x2="312.2" y2="179.5"/>
<line x1="349.3" y1="141.6" x2="338.9" y2="172.0"/>
<line x1="349.3" y1="141.6" x2="284.5" y2="275.5"/>
<line x1="374.7" y1="144.3" x2="344.3" y2="194.0"/>
<line x1="374.7" y1="144.3" x2="255.3" y2="264.7"/>
<line x1="374.7" y1="144.3" x2="312.2" y2="179.5"/>
<line x1="374.7" y1="144.3" x2="293.9" y2="166.5"/>
<line x1="374.7" y1="144.3" x2="284.5" y2="275.5"/>
<line x1="304.7" y1="143.9" x2="344.3" y2="194.0"/>
<line x1="304.7" y1="143.9" x2="255.3" y2="264.7"/>
<line x1="304.7" y1="143.9" x2="312.2" y2="179.5"/>
<line x1="304.7" y1="143.9" x2="293.9" y2="166.5"/>
<line x1="304.7" y1="143.9" x2="338.9" y2="172.0"/>
<line x1="321.6" y1="143.4" x2="344.3" y2="194.0"/>
<line x1="321.6" y1="143.4" x2="293.9" y2="166.5"/>
<line x1="321.6" y1="143.4" x2="312.2" y2="179.5"/>
<line x1="321.6" y1="143.4" x2="338.9" y2="172.0"/>
<line x1="321.6" y1="143.4" x2="284.5" y2="275.5"/>
<line x1="357.4" y1="147.3" x2="344.3" y2="194.0"/>
<line x1="357.4" y1="147.3" x2="293.9" y2="166.5"/>
<line x1="357.4" y1="147.3" x2="312.2" y2="179.5"/>
<line x1="357.4" y1="147.3" x2="239.0" y2="251.2"/>
<line x1="357.4" y1="147.3" x2="338.9" y2="172.0"/>
<line x1="357.4" y1="147.3" x2="237.0" y2="238.5"/>
<line x1="374.7" y1="162.8" x2="338.9" y2="172.0"/>
<line x1="374.7" y1="162.8" x2="344.3" y2="194.0"/>
<line x1="374.7" y1="162.8" x2="293.9" y2="166.5"/>
<line x1="374.7" y1="162.8" x2="312.2" y2="179.5"/>
<line x1="386.3" y1="161.9" x2="293.9" y2="166.5"/>
<line x1="386.3" y1="161.9" x2="255.3" y2="264.7"/>
<line x1="386.3" y1="161.9" x2="239.0" y2="251.2"/>
<line x1="386.3" y1="161.9" x2="338.9" y2="172.0"/>
<line x1="381.6" y1="170.4" x2="338.9" y2="172.0"/>
<line x1="381.6" y1="170.4" x2="237.0" y2="238.5"/>
<line x1="381.6" y1="170.4" x2="344.3" y2="194.0"/>
<line x1="381.6" y1="170.4" x2="312.2" y2="179.5"/>
<line x1="386.3" y1="187.3" x2="293.9" y2="166.5"/>
<line x1="386.3" y1="187.3" x2="255.3" y2="264.7"/>
<line x1="386.3" y1="187.3" x2="239.0" y2="251.2"/>
<line x1="386.3" y1="187.3" x2="338.9" y2="172.0"/>
<line x1="386.3" y1="187.3" x2="237.0" y2="238.5"/>
<line x1="384.0" y1="194.2" x2="293.9" y2="166.5"/>
<line x1="384.0" y1="194.2" x2="312.2" y2="179.5"/>
<line x1="384.0" y1="194.2" x2="255.3" y2="264.7"/>
<line x1="384.0" y1="194.2" x2="338.9" y2="172.0"/>
<line x1="384.0" y1="194.2" x2="284.5" y2="275.5"/>
<line x1="104.9" y1="168.9" x2="164.7" y2="258.2"/>
<line x1="104.9" y1="168.9" x2="131.9" y2="262.8"/>
<line x1="104.9" y1="168.9" x2="182.0" y2="245.5"/>
<line x1="104.9" y1="168.9" x2="144.7" y2="159.6"/>
<line x1="126.9" y1="163.6" x2="144.7" y2="159.6"/>
<line x1="126.9" y1="163.6" x2="164.7" y2="258.2"/>
<line x1="126.9" y1="163.6" x2="121.1" y2="179.7"/>
<line x1="126.9" y1="163.6" x2="87.4" y2="177.4"/>
<line x1="144.7" y1="159.6" x2="104.9" y2="168.9"/>
<line x1="144.7" y1="159.6" x2="131.9" y2="262.8"/>
<line x1="144.7" y1="159.6" x2="104.9" y2="168.9"/>
<line x1="144.7" y1="159.6" x2="104.9" y2="168.9"/>
<line x1="87.4" y1="177.4" x2="145.0" y2="251.2"/>
<line x1="87.4" y1="177.4" x2="145.0" y2="251.2"/>
<line x1="87.4" y1="177.4" x2="104.9" y2="168.9"/>
<line x1="87.4" y1="177.4" x2="131.9" y2="262.8"/>
<line x1="121.1" y1="179.7" x2="126.9" y2="163.6"/>
<line x1="121.1" y1="179.7" x2="87.4" y2="177.4"/>
<line x1="121.1" y1="179.7" x2="126.9" y2="163.6"/>
<line x1="121.1" y1="179.7" x2="144.7" y2="159.6"/>
<line x1="157.7" y1="241.5" x2="261.0" y2="241.2"/>
<line x1="157.7" y1="241.5" x2="104.9" y2="168.9"/>
<line x1="157.7" y1="241.5" x2="182.0" y2="245.5"/>
<line x1="157.7" y1="241.5" x2="164.7" y2="258.2"/>
<line x1="145.0" y1="251.2" x2="164.7" y2="258.2"/>
<line x1="145.0" y1="251.2" x2="159.6" y2="275.0"/>
<line x1="145.0" y1="251.2" x2="159.6" y2="275.0"/>
<line x1="145.0" y1="251.2" x2="144.7" y2="159.6"/>
<line x1="131.9" y1="262.8" x2="104.9" y2="168.9"/>
<line x1="131.9" y1="262.8" x2="157.7" y2="241.5"/>
<line x1="131.9" y1="262.8" x2="237.0" y2="238.5"/>
<line x1="131.9" y1="262.8" x2="159.6" y2="275.0"/>
<line x1="164.7" y1="258.2" x2="157.7" y2="241.5"/>
<line x1="164.7" y1="258.2" x2="144.7" y2="159.6"/>
<line x1="164.7" y1="258.2" x2="137.4" y2="277.3"/>
<line x1="164.7" y1="258.2" x2="255.3" y2="264.7"/>
<line x1="182.0" y1="245.5" x2="261.0" y2="241.2"/>
<line x1="182.0" y1="245.5" x2="183.6" y2="265.8"/>
<line x1="182.0" y1="245.5" x2="126.9" y2="163.6"/>
<line x1="182.0" y1="245.5" x2="126.9" y2="163.6"/>
<line x1="183.6" y1="265.8" x2="121.1" y2="179.7"/>
<line x1="183.6" y1="265.8" x2="121.1" y2="179.7"/>
<line x1="183.6" y1="265.8" x2="121.1" y2="179.7"/>
<line x1="183.6" y1="265.8" x2="284.5" y2="275.5"/>
<line x1="137.4" y1="277.3" x2="239.0" y2="251.2"/>
<line x1="137.4" y1="277.3" x2="157.7" y2="241.5"/>
<line x1="137.4" y1="277.3" x2="183.6" y2="265.8"/>
<line x1="137.4" y1="277.3" x2="164.7" y2="258.2"/>
<line x1="159.6" y1="275.0" x2="164.7" y2="258.2"/>
<line x1="159.6" y1="275.0" x2="261.0" y2="241.2"/>
<line x1="159.6" y1="275.0" x2="237.0" y2="238.5"/>
<line x1="159.6" y1="275.0" x2="145.0" y2="251.2"/>
<line x1="243.9" y1="223.0" x2="344.3" y2="194.0"/>
<line x1="243.9" y1="223.0" x2="145.0" y2="251.2"/>
<line x1="243.9" y1="223.0" x2="281.5" y2="256.3"/>
<line x1="243.9" y1="223.0" x2="284.5" y2="275.5"/>
<line x1="237.0" y1="238.5" x2="293.9" y2="166.5"/>
<line x1="237.0" y1="238.5" x2="312.2" y2="179.5"/>
<line x1="237.0" y1="238.5" x2="183.6" y2="265.8"/>
<line x1="237.0" y1="238.5" x2="182.0" y2="245.5"/>
<line x1="239.0" y1="251.2" x2="164.7" y2="258.2"/>
<line x1="239.0" y1="251.2" x2="255.3" y2="264.7"/>
<line x1="239.0" y1="251.2" x2="183.6" y2="265.8"/>
<line x1="239.0" y1="251.2" x2="284.5" y2="275.5"/>
<line x1="261.0" y1="241.2" x2="239.0" y2="251.2"/>
<line x1="261.0" y1="241.2" x2="237.0" y2="238.5"/>
<line x1="261.0" y1="241.2" x2="312.2" y2="179.5"/>
<line x1="261.0" y1="241.2" x2="312.2" y2="179.5"/>
<line x1="255.3" y1="264.7" x2="239.0" y2="251.2"/>
<line x1="255.3" y1="264.7" x2="159.6" y2="275.0"/>
<line x1="255.3" y1="264.7" x2="312.2" y2="179.5"/>
<line x1="255.3" y1="264.7" x2="312.2" y2="179.5"/>
<line x1="281.5" y1="256.3" x2="312.2" y2="179.5"/>
<line x1="281.5" y1="256.3" x2="261.0" y2="241.2"/>
<line x1="281.5" y1="256.3" x2="239.0" y2="251.2"/>
<line x1="281.5" y1="256.3" x2="239.0" y2="251.2"/>
<line x1="284.5" y1="275.5" x2="182.0" y2="245.5"/>
<line x1="284.5" y1="275.5" x2="312.2" y2="179.5"/>
<line x1="284.5" y1="275.5" x2="344.3" y2="194.0"/>
<line x1="284.5" y1="275.5" x2="312.2" y2="179.5"/>
<line x1="293.9" y1="166.5" x2="281.5" y2="256.3"/>
<line x1="293.9" y1="166.5" x2="344.3" y2="194.0"/>
<line x1="293.9" y1="166.5" x2="243.9" y2="223.0"/>
<line x1="293.9" y1="166.5" x2="239.0" y2="251.2"/>
<line x1="312.2" y1="179.5" x2="344.3" y2="194.0"/>
<line x1="312.2" y1="179.5" x2="255.3" y2="264.7"/>
<line x1="312.2" y1="179.5" x2="344.3" y2="194.0"/>
<line x1="312.2" y1="179.5" x2="284.5" y2="275.5"/>
<line x1="338.9" y1="172.0" x2="261.0" y2="241.2"/>
<line x1="338.9" y1="172.0" x2="293.9" y2="166.5"/>
<line x1="338.9" y1="172.0" x2="293.9" y2="166.5"/>
<line x1="338.9" y1="172.0" x2="344.3" y2="194.0"/>
<line x1="344.3" y1="194.0" x2="284.5" y2="275.5"/>
<line x1="344.3" y1="194.0" x2="293.9" y2="166.5"/>
<line x1="344.3" y1="194.0" x2="338.9" y2="172.0"/>
<line x1="344.3" y1="194.0" x2="261.0" y2="241.2"/>
</g>
<path d="M27.3,180 C26.4,176.2 25.5,165.5 25.7,159.3 C25.9,153.1 26.1,148.8 28.5,143.0 C30.9,137.2 35.4,130.0 40.0,124.6 C44.6,119.2 49.7,114.6 56.2,110.8 C62.8,107.0 70.8,103.6 79.3,101.5 C87.8,99.4 98.2,98.2 107.0,98.0 C115.8,97.8 125.5,98.7 132.4,100.4 C139.3,102.2 145.1,104.5 148.6,108.5 C152.1,112.5 152.8,119.6 153.2,124.6 C153.6,129.6 152.8,134.8 150.9,138.5 C149.0,142.2 147.0,144.9 141.6,146.6 C136.2,148.3 125.4,147.8 118.5,148.9 C111.6,150.1 105.4,151.0 100.0,153.5 C94.6,156.0 90.0,159.8 86.2,163.9 C82.4,168.0 80.1,174.3 77.0,177.8 C73.9,181.3 73.1,183.5 67.7,184.7 C62.3,185.8 50.8,185.1 44.6,184.7 C38.5,184.3 33.7,183.2 30.8,182.4 C27.9,181.6 28.2,183.8 27.3,180.0 Z" fill="none" stroke="#3f6fc0" stroke-width="0.9" stroke-dasharray="1.3 0.9"/>
<path d="M91,268.2 C84.8,267.8 80.9,265.7 77.0,262.4 C73.1,259.1 69.4,253.9 67.7,248.5 C66.0,243.1 65.4,236.2 66.6,230.0 C67.8,223.8 70.7,216.6 74.7,211.6 C78.7,206.6 86.1,202.9 90.8,200.0 C95.5,197.1 97.1,196.8 103.0,194.3 C108.9,191.8 118.1,188.7 126.2,185.0 C134.3,181.3 143.1,175.4 151.6,172.3 C160.1,169.2 168.9,167.2 177.0,166.6 C185.1,166.0 193.4,167.2 200.0,168.9 C206.6,170.6 212.8,173.3 216.3,177.0 C219.8,180.7 220.5,187.0 220.9,190.8 C221.3,194.6 221.3,196.5 218.6,200.0 C215.9,203.5 210.9,207.9 204.7,211.6 C198.5,215.3 189.3,218.5 181.6,222.0 C173.9,225.5 164.7,229.5 158.5,232.4 C152.3,235.3 148.7,235.9 144.7,239.3 C140.7,242.8 139.8,248.9 134.7,253.1 C129.6,257.3 121.2,262.2 113.9,264.7 C106.6,267.2 97.2,268.6 91.0,268.2 Z" fill="none" stroke="#2f9a62" stroke-width="1.0" stroke-dasharray="1.3 0.9"/>
<path d="M179.7,287.7 C180.5,284.9 182.1,281.6 184.5,279.2 C186.9,276.8 191.6,275.8 194.2,273.2 C196.8,270.6 199.5,267.9 200.3,263.5 C201.1,259.1 198.9,251.3 199.1,246.5 C199.3,241.7 199.5,237.4 201.5,234.4 C203.5,231.4 207.6,228.9 211.2,228.3 C214.8,227.7 220.5,228.6 223.3,230.8 C226.1,233.0 227.4,237.1 228.2,241.7 C229.0,246.3 227.0,253.8 228.2,258.6 C229.4,263.5 231.5,267.6 235.5,270.8 C239.5,274.0 247.2,276.0 252.4,278.0 C257.6,280.0 263.8,280.5 267.0,282.9 C270.2,285.3 271.4,289.4 271.8,292.6 C272.2,295.8 272.2,300.1 269.4,302.3 C266.6,304.5 261.3,305.2 254.8,305.9 C248.3,306.6 238.7,306.6 230.6,306.6 C222.5,306.6 213.3,306.4 206.4,305.9 C199.5,305.4 193.9,305.1 189.4,303.5 C184.9,301.9 181.3,298.8 179.7,296.2 C178.1,293.6 178.9,290.5 179.7,287.7 Z" fill="none" stroke="#111" stroke-width="1.1" stroke-dasharray="1.3 0.9"/>
<path d="M275.8,175 C272.3,174.7 268.3,173.8 265.4,176.7 C262.5,179.6 260.1,186.8 258.5,192.3 C256.9,197.8 256.1,203.9 255.9,209.7 C255.8,215.5 256.0,222.4 257.6,227.0 C259.2,231.6 261.5,234.4 265.4,237.4 C269.3,240.4 274.9,243.3 281.0,245.2 C287.1,247.1 294.6,248.0 301.8,248.7 C309.0,249.4 317.7,249.7 324.3,249.5 C330.9,249.3 337.5,249.8 341.7,247.8 C345.9,245.8 348.1,241.5 349.5,237.4 C350.9,233.3 351.0,227.8 350.3,223.5 C349.6,219.2 348.3,214.4 345.1,211.4 C341.9,208.4 336.2,207.3 331.3,205.3 C326.4,203.3 320.9,202.0 315.7,199.3 C310.5,196.6 304.9,192.4 300.0,188.9 C295.1,185.4 290.2,180.8 286.2,178.5 C282.2,176.2 279.3,175.3 275.8,175.0 Z" fill="none" stroke="#7a4cc0" stroke-width="1.1" stroke-dasharray="1.3 0.9"/>
<path d="M299.7,153.1 C296.6,149.8 297.6,141.6 298.5,137.0 C299.4,132.4 300.8,128.5 305.4,125.4 C310.0,122.3 318.5,120.0 326.2,118.5 C333.9,117.0 343.5,116.0 351.6,116.2 C359.7,116.4 367.8,116.9 374.7,119.6 C381.6,122.3 388.2,127.1 393.2,132.3 C398.2,137.5 402.0,144.6 404.7,150.8 C407.4,157.0 409.0,163.1 409.4,169.3 C409.8,175.5 408.9,183.0 407.0,187.8 C405.1,192.6 402.8,196.3 397.8,198.2 C392.8,200.1 382.8,200.7 377.0,199.3 C371.2,197.9 366.3,194.6 363.2,190.0 C360.1,185.4 360.1,176.6 358.5,171.6 C356.9,166.6 357.3,162.7 353.9,160.0 C350.4,157.3 343.9,156.0 337.8,155.4 C331.7,154.8 323.4,157.0 317.0,156.6 C310.6,156.2 302.8,156.4 299.7,153.1 Z" fill="none" stroke="#e03a3a" stroke-width="1.0" stroke-dasharray="1.3 0.9"/>
<rect x="96.65" y="160.65" width="16.5" height="16.5" rx="1.98" fill="#e2272b"/>
<rect x="119.90" y="156.60" width="14" height="14" rx="1.68" fill="#e2272b"/>
<rect x="138.95" y="153.85" width="11.5" height="11.5" rx="1.38" fill="#e2272b"/>
<rect x="82.65" y="172.65" width="9.5" height="9.5" rx="1.14" fill="#e2272b"/>
<rect x="115.35" y="173.95" width="11.5" height="11.5" rx="1.38" fill="#e2272b"/>
<rect x="152.70" y="236.50" width="10" height="10" rx="1.20" fill="#e2272b"/>
<rect x="138.65" y="244.85" width="12.7" height="12.7" rx="1.52" fill="#e2272b"/>
<rect x="125.15" y="256.05" width="13.5" height="13.5" rx="1.62" fill="#e2272b"/>
<rect x="159.45" y="252.95" width="10.5" height="10.5" rx="1.26" fill="#e2272b"/>
<rect x="173.50" y="237.00" width="17" height="17" rx="2.04" fill="#e2272b"/>
<rect x="175.60" y="257.80" width="16" height="16" rx="1.92" fill="#e2272b"/>
<rect x="130.15" y="270.05" width="14.5" height="14.5" rx="1.74" fill="#e2272b"/>
<rect x="150.60" y="266.00" width="18" height="18" rx="2.16" fill="#e2272b"/>
<rect x="237.40" y="216.50" width="13" height="13" rx="1.56" fill="#e2272b"/>
<rect x="233.00" y="234.50" width="8" height="8" rx="0.96" fill="#e2272b"/>
<rect x="235.00" y="247.20" width="8" height="8" rx="0.96" fill="#e2272b"/>
<rect x="257.00" y="237.20" width="8" height="8" rx="0.96" fill="#e2272b"/>
<rect x="247.30" y="256.70" width="16" height="16" rx="1.92" fill="#e2272b"/>
<rect x="274.50" y="249.30" width="14" height="14" rx="1.68" fill="#e2272b"/>
<rect x="280.00" y="271.00" width="9" height="9" rx="1.08" fill="#e2272b"/>
<circle cx="293.9" cy="166.5" r="2" fill="#e2272b"/>
<rect x="308.20" y="175.50" width="8" height="8" rx="0.96" fill="#e2272b"/>
<rect x="336.65" y="169.75" width="4.5" height="4.5" rx="0.54" fill="#e2272b"/>
<rect x="341.55" y="191.25" width="5.5" height="5.5" rx="0.66" fill="#e2272b"/>
<circle cx="71.2" cy="113.1" r="4" fill="#e2272b"/>
<circle cx="58.5" cy="118.2" r="2.5" fill="#e2272b"/>
<circle cx="65.4" cy="123.5" r="2" fill="#e2272b"/>
<circle cx="61.3" cy="131.6" r="2.5" fill="#e2272b"/>
<circle cx="73.5" cy="132.7" r="2.5" fill="#e2272b"/>
<circle cx="43.5" cy="131.6" r="2.5" fill="#e2272b"/>
<circle cx="59.7" cy="139.7" r="2" fill="#e2272b"/>
<circle cx="51.6" cy="137.3" r="2.5" fill="#e2272b"/>
<circle cx="51.6" cy="125.1" r="1.5" fill="#e2272b"/>
<circle cx="83.4" cy="127" r="3.5" fill="#5ec5dc"/>
<circle cx="83.4" cy="137.8" r="4" fill="#5ec5dc"/>
<polygon points="104.7,98.80 107.45,103.53 101.95,103.53" fill="#5ec5dc"/>
<circle cx="116.2" cy="106.2" r="1.5" fill="#e2272b"/>
<polygon points="126.6,108.76 129.90,114.43 123.30,114.43" fill="#5ec5dc"/>
<circle cx="134.7" cy="117.3" r="2" fill="#5ec5dc"/>
<circle cx="107" cy="113.8" r="2" fill="#e2272b"/>
<polygon points="112.8,117.84 115.00,121.62 110.60,121.62" fill="#e2272b"/>
<circle cx="98" cy="125.8" r="2" fill="#5ec5dc"/>
<circle cx="120.8" cy="125.8" r="2" fill="#e2272b"/>
<polygon points="127.8,126.74 132.75,135.25 122.85,135.25" fill="#e2272b"/>
<circle cx="147.4" cy="136.2" r="3" fill="#e2272b"/>
<circle cx="137" cy="142" r="2" fill="#e2272b"/>
<circle cx="37.7" cy="146.6" r="2" fill="#e2272b"/>
<polygon points="41.2,150.7 45.2,154.7 41.2,158.7 37.2,154.7" fill="#cc1f29" stroke="#8a1a1a" stroke-width="0.3"/>
<polygon points="30.8,157.4 33.8,160.4 30.8,163.4 27.8,160.4" fill="#cc1f29" stroke="#8a1a1a" stroke-width="0.3"/>
<polygon points="55,156.1 60.5,161.6 55,167.1 49.5,161.6" fill="#5ec5dc" stroke="#8a1a1a" stroke-width="0.3"/>
<polygon points="36.6,164.6 39.4,167.4 36.6,170.20000000000002 33.800000000000004,167.4" fill="#cc1f29" stroke="#8a1a1a" stroke-width="0.3"/>
<circle cx="56.2" cy="169.7" r="1.5" fill="#e2272b"/>
<circle cx="63.1" cy="175.5" r="2" fill="#5ec5dc"/>
<polygon points="40,174.3 43,177.3 40,180.3 37,177.3" fill="#cc1f29" stroke="#8a1a1a" stroke-width="0.3"/>
<circle cx="120.4" cy="214.2" r="10.5" fill="#5ec5dc"/>
<circle cx="140.5" cy="195.4" r="5" fill="#e2272b"/>
<circle cx="100.8" cy="205.1" r="4.5" fill="#e2272b"/>
<circle cx="134.3" cy="209.3" r="3" fill="#e2272b"/>
<circle cx="149.7" cy="211.6" r="3.5" fill="#e2272b"/>
<circle cx="93.9" cy="217.4" r="2" fill="#e2272b"/>
<circle cx="145.8" cy="223.1" r="2" fill="#e2272b"/>
<circle cx="107.7" cy="225.9" r="3" fill="#e2272b"/>
<circle cx="93.9" cy="228.9" r="2" fill="#e2272b"/>
<circle cx="118" cy="231.2" r="2.5" fill="#e2272b"/>
<circle cx="134.3" cy="228.9" r="3" fill="#e2272b"/>
<circle cx="112.3" cy="237" r="2.5" fill="#e2272b"/>
<circle cx="124.3" cy="242.7" r="5.5" fill="#e2272b"/>
<circle cx="87.4" cy="243.9" r="2" fill="#e2272b"/>
<polygon points="75.8,245.0 79.3,248.5 75.8,252.0 72.3,248.5" fill="#cc1f29" stroke="#8a1a1a" stroke-width="0.3"/>
<circle cx="95.5" cy="252" r="2.5" fill="#e2272b"/>
<polygon points="86.2,254.2 90.2,258.2 86.2,262.2 82.2,258.2" fill="#cc1f29" stroke="#8a1a1a" stroke-width="0.3"/>
<polygon points="210.40,179.30 206.65,185.80 199.15,185.80 195.40,179.30 199.15,172.80 206.65,172.80" fill="#5ec5dc"/>
<circle cx="190.9" cy="180.4" r="1.5" fill="#5ec5dc"/>
<circle cx="166.6" cy="185" r="1.5" fill="#5ec5dc"/>
<circle cx="182.8" cy="190.3" r="2.5" fill="#e2272b"/>
<circle cx="195.5" cy="193.1" r="2.5" fill="#e2272b"/>
<circle cx="209.3" cy="193.6" r="2" fill="#5ec5dc"/>
<circle cx="186.2" cy="199.6" r="3.5" fill="#e2272b"/>
<circle cx="197.8" cy="204.2" r="3.5" fill="#e2272b"/>
<polygon points="170,203.76 173.30,209.43 166.70,209.43" fill="#e2272b"/>
<circle cx="188.5" cy="210.4" r="3.5" fill="#e2272b"/>
<circle cx="166.6" cy="195.4" r="1.5" fill="#e2272b"/>
<circle cx="201.5" cy="293.3" r="8" fill="#e2272b"/>
<circle cx="203.9" cy="277.5" r="3" fill="#e2272b"/>
<circle cx="187.5" cy="285.3" r="2.5" fill="#e2272b"/>
<circle cx="206.4" cy="238.8" r="2" fill="#e2272b"/>
<circle cx="214.8" cy="237.5" r="2" fill="#e2272b"/>
<circle cx="206.4" cy="247.2" r="2" fill="#e2272b"/>
<circle cx="219.7" cy="245.3" r="2" fill="#e2272b"/>
<circle cx="213.6" cy="256.2" r="2" fill="#e2272b"/>
<circle cx="220.9" cy="253.1" r="2" fill="#e2272b"/>
<circle cx="219.7" cy="263.5" r="2" fill="#e2272b"/>
<polygon points="232.5,292.54 237.45,301.04 227.55,301.04" fill="#5ec5dc"/>
<circle cx="235.5" cy="280.5" r="1.5" fill="#5ec5dc"/>
<circle cx="250" cy="282.9" r="1.5" fill="#5ec5dc"/>
<polygon points="258.5,291.5 261.5,294.5 258.5,297.5 255.5,294.5" fill="#5ec5dc" stroke="#8a1a1a" stroke-width="0.3"/>
<circle cx="242.7" cy="295" r="1.5" fill="#e2272b"/>
<circle cx="253" cy="304" r="1.5" fill="#e2272b"/>
<circle cx="228" cy="289" r="1.5" fill="#5ec5dc"/>
<circle cx="240" cy="288" r="1.5" fill="#e2272b"/>
<circle cx="272.3" cy="186.8" r="2" fill="#e2272b"/>
<circle cx="285.3" cy="190.6" r="1.5" fill="#e2272b"/>
<circle cx="268" cy="196.7" r="2" fill="#e2272b"/>
<circle cx="277.5" cy="198.4" r="1.2" fill="#e2272b"/>
<circle cx="290.5" cy="201.9" r="1.2" fill="#e2272b"/>
<circle cx="303.5" cy="199.3" r="3.5" fill="#e2272b"/>
<circle cx="314" cy="206.2" r="2" fill="#e2272b"/>
<circle cx="267.5" cy="206.5" r="2.5" fill="#e2272b"/>
<circle cx="275.8" cy="208.3" r="2" fill="#e2272b"/>
<circle cx="302.7" cy="214" r="2.5" fill="#e2272b"/>
<circle cx="321.7" cy="213.5" r="1.2" fill="#e2272b"/>
<circle cx="268.9" cy="218.3" r="1.2" fill="#e2272b"/>
<polygon points="285.3,218.30 288.05,223.03 282.55,223.03" fill="#5ec5dc"/>
<circle cx="290.5" cy="219.7" r="1.2" fill="#e2272b"/>
<circle cx="308.7" cy="220.4" r="1.2" fill="#e2272b"/>
<polygon points="272.3,225.20 275.05,229.93 269.55,229.93" fill="#5ec5dc"/>
<circle cx="294" cy="230.1" r="1.5" fill="#e2272b"/>
<circle cx="307" cy="231.3" r="1.2" fill="#e2272b"/>
<circle cx="341.7" cy="220.4" r="1.2" fill="#e2272b"/>
<circle cx="335.6" cy="224.4" r="1.2" fill="#e2272b"/>
<circle cx="343.4" cy="227.9" r="1.2" fill="#e2272b"/>
<circle cx="333" cy="231.8" r="1.2" fill="#e2272b"/>
<polygon points="282.7,233.00 285.45,237.72 279.95,237.72" fill="#e2272b"/>
<polygon points="300,236.76 303.30,242.43 296.70,242.43" fill="#e2272b"/>
<polygon points="328.7,237.2 333.2,241.7 328.7,246.2 324.2,241.7" fill="#cc1f29" stroke="#8a1a1a" stroke-width="0.3"/>
<g font-family="Liberation Sans" font-size="4" font-weight="bold" fill="#1a1a1a" text-anchor="middle">
<text x="104.9" y="170.2">Ka-Fe-Rh-4ex</text>
<text x="126.9" y="164.9">Gd-Fe-Rh-2Hex</text>
<text x="144.7" y="160.9">Py-Rh-2Hex</text>
<text x="87.4" y="178.7">Ap-Fe-Rh-deb</text>
<text x="121.1" y="181.0">Ka-Rh-2Hex</text>
<text x="157.7" y="242.8">Ap-Rh-Hex</text>
<text x="145" y="252.5">Ka-Rh-Hex</text>
<text x="131.9" y="264.1">Ch-Hex</text>
<text x="164.7" y="259.5">Ap-Co-Rh-Hex</text>
<text x="182" y="246.8">Py-Fe-Rh-2Hex</text>
<text x="183.6" y="267.1">Ap-Co-Rh-2Hex</text>
<text x="137.4" y="278.6">Ok</text>
<text x="159.6" y="276.3">Py-Co-Rh-2Hex</text>
<text x="243.9" y="224.3">Pr-Ca-Rh-2Hex</text>
<text x="237" y="239.8">Ap-Co-Rh-2Hex</text>
<text x="239" y="252.5">Ap-Co-Rh</text>
<text x="261" y="242.5">Pi-Fe-Rh-Hex</text>
<text x="255.3" y="266.0">Pv-Ca-Rh-2Hex</text>
<text x="281.5" y="257.6">Pi-Co-Rh-2Hex</text>
<text x="284.5" y="276.8">Mv-Ca-Rh-2Hex</text>
<text x="293.9" y="167.8">Dp-Ca-Rh-2Hex</text>
<text x="312.2" y="180.8">Pi-Fe-Rh-2Hex</text>
<text x="338.9" y="173.3">Pi-Ca-Rh-2Hex</text>
<text x="344.3" y="195.3">Pr-Ca-Rh-2Hex</text>
<text x="71.2" y="114.4">AZI1</text>
<text x="58.5" y="119.5">NFYB13</text>
<text x="65.4" y="124.8">SCRP1</text>
<text x="61.3" y="132.9">WRKY75</text>
<text x="73.5" y="134.0">NLP7</text>
<text x="43.5" y="132.9">JAZ10</text>
<text x="59.7" y="141.0">MSLH</text>
<text x="51.6" y="138.6">PTS1</text>
<text x="51.6" y="126.4">MSLH</text>
<text x="83.4" y="128.3">HAC2</text>
<text x="83.4" y="139.1">BIH1</text>
<text x="104.7" y="102.8">FER</text>
<text x="116.2" y="107.5">IQD21</text>
<text x="126.6" y="113.3">CBL-IQD33</text>
<text x="134.7" y="118.6">IQD16</text>
<text x="107" y="115.1">CRK34</text>
<text x="112.8" y="121.3">AT5G02390</text>
<text x="98" y="127.1">AT1G21100</text>
<text x="120.8" y="127.1">LRR/PK</text>
<text x="127.8" y="132.9">SAL</text>
<text x="147.4" y="137.5">AT</text>
<text x="137" y="143.3">LBD4</text>
<text x="37.7" y="147.9">GPT</text>
<text x="30.8" y="161.7">AT5G</text>
<text x="55" y="162.9">MAX1</text>
<text x="36.6" y="168.7">SAUR31</text>
<text x="56.2" y="171.0">GH3.6</text>
<text x="63.1" y="176.8">SAUR71</text>
<text x="40" y="178.6">GA2OX1</text>
<text x="120.4" y="215.5">AT1G01200</text>
<text x="140.5" y="196.7">NLP8</text>
<text x="100.8" y="206.4">BRT1</text>
<text x="134.3" y="210.6">MYB</text>
<text x="149.7" y="212.9">AZI</text>
<text x="93.9" y="218.7">NLP1</text>
<text x="145.8" y="224.4">MYB52</text>
<text x="107.7" y="227.2">PIF</text>
<text x="93.9" y="230.2">HAT</text>
<text x="118" y="232.5">RAP</text>
<text x="134.3" y="230.2">REV</text>
<text x="112.3" y="238.3">GOL</text>
<text x="124.3" y="244.0">NLP7</text>
<text x="87.4" y="245.2">SAUR</text>
<text x="75.8" y="249.8">GASOX1</text>
<text x="95.5" y="253.3">SAUR</text>
<text x="86.2" y="259.5">GASOX1</text>
<text x="202.9" y="180.6">FSH</text>
<text x="190.9" y="181.7">PEN2</text>
<text x="166.6" y="186.3">ASN1</text>
<text x="182.8" y="191.6">HEY</text>
<text x="195.5" y="194.4">HEY</text>
<text x="209.3" y="194.9">OMT1</text>
<text x="186.2" y="200.9">ARG</text>
<text x="197.8" y="205.5">GRP</text>
<text x="170" y="208.3">CAB4</text>
<text x="188.5" y="211.7">GRP</text>
<text x="166.6" y="196.7">LRR/PK</text>
<text x="201.5" y="294.6">SET1</text>
<text x="203.9" y="278.8">AT1G54090</text>
<text x="187.5" y="286.6">TTI</text>
<text x="206.4" y="240.1">4CL</text>
<text x="214.8" y="238.8">CHS</text>
<text x="206.4" y="248.5">PAL</text>
<text x="219.7" y="246.6">CCR</text>
<text x="213.6" y="257.5">COMT</text>
<text x="220.9" y="254.4">CHI</text>
<text x="219.7" y="264.8">F3H</text>
<text x="232.5" y="298.7">CERK1</text>
<text x="235.5" y="281.8">CER1</text>
<text x="250" y="284.2">KIN2</text>
<text x="258.5" y="295.8">SAUR66</text>
<text x="242.7" y="296.3">YDM1</text>
<text x="253" y="305.3">AT1G04630</text>
<text x="228" y="290.3">LRR/PK</text>
<text x="240" y="289.3">WDR</text>
<text x="272.3" y="188.1">CHS</text>
<text x="285.3" y="191.9">UFGT</text>
<text x="268" y="198.0">CHI</text>
<text x="277.5" y="199.7">NRNT</text>
<text x="290.5" y="203.2">UFGT</text>
<text x="303.5" y="200.6">MYB</text>
<text x="314" y="207.5">ERF/RAP2</text>
<text x="267.5" y="207.8">CHI</text>
<text x="275.8" y="209.6">L2DK</text>
<text x="302.7" y="215.3">DFR</text>
<text x="321.7" y="214.8">AT3G34540</text>
<text x="268.9" y="219.6">CAB3</text>
<text x="290.5" y="221.0">AT1G20050</text>
<text x="308.7" y="221.7">MAE3A</text>
<text x="272.3" y="229.2">AT5G07985</text>
<text x="294" y="231.4">TLP1</text>
<text x="307" y="232.6">VAR3</text>
<text x="341.7" y="221.7">GA3</text>
<text x="335.6" y="225.7">GRP</text>
<text x="343.4" y="229.2">KIN2</text>
<text x="333" y="233.1">GRP</text>
<text x="282.7" y="237.0">LAD</text>
<text x="300" y="241.3">LAD</text>
<text x="328.7" y="243.0">GRP3</text>
<text x="320.4" y="128.6">CBP</text>
<text x="342.4" y="123.9">AT1G62960</text>
<text x="351.6" y="128.6">AT3G41280</text>
<text x="363.2" y="132.5">AT5G47430</text>
<text x="311.2" y="137.6">EXO</text>
<text x="330.8" y="137.8">EXO</text>
<text x="343.5" y="138.7">ISO</text>
<text x="372.4" y="138.9">AT1G70150</text>
<text x="349.3" y="142.9">WRKY</text>
<text x="374.7" y="145.6">GA2A26</text>
<text x="304.7" y="145.2">EXO</text>
<text x="321.6" y="144.7">EXO</text>
<text x="357.4" y="148.6">WRKY69</text>
<text x="374.7" y="164.1">GH3.1</text>
<text x="386.3" y="163.2">SR2</text>
<text x="381.6" y="171.7">AT1G10810</text>
<text x="386.3" y="188.6">AT1G69960</text>
<text x="384" y="195.5">PAL2</text>
</g>
<text x="11.6" y="92.2" font-family="Liberation Serif" font-size="9.1" font-weight="bold" text-anchor="start" fill="#111">A)&#160; Hongyoung</text>
<text x="12.9" y="145" font-family="Liberation Serif" font-size="9.1" font-weight="bold" text-anchor="start" fill="#111">Cluster I</text>
<text x="50.4" y="232.2" font-family="Liberation Serif" font-size="9.0" font-weight="bold" text-anchor="start" fill="#111">Cluster II</text>
<text x="207.6" y="315.3" font-family="Liberation Serif" font-size="9.3" font-weight="bold" text-anchor="start" fill="#111">Cluster III</text>
<text x="337.8" y="248.4" font-family="Liberation Serif" font-size="9.1" font-weight="bold" text-anchor="start" fill="#111">Cluster IV</text>
<text x="370" y="159.9" font-family="Liberation Serif" font-size="9.3" font-weight="bold" text-anchor="start" fill="#111">Cluster V</text>
<text x="156.2" y="159.8" font-family="Liberation Serif" font-size="9.1" font-weight="bold" font-style="italic" text-anchor="start" fill="#111">Group A</text>
<text x="115" y="299" font-family="Liberation Serif" font-size="9.0" font-weight="bold" font-style="italic" text-anchor="start" fill="#111">Group B</text>
<text x="290.6" y="283.2" font-family="Liberation Serif" font-size="9.25" font-weight="bold" font-style="italic" text-anchor="start" fill="#111">Group C</text>
<text x="264.3" y="164.4" font-family="Liberation Serif" font-size="9.2" font-weight="bold" font-style="italic" text-anchor="start" fill="#111">Group D</text>
<rect x="486.3" y="52.5" width="319.09999999999997" height="281.7" fill="none" stroke="#b0b0b0" stroke-width="0.9"/>
<g stroke="#8a7ce4" stroke-opacity="0.85" stroke-width="1.0" stroke-dasharray="2.6 1.7">
<line x1="486.3" y1="327.0" x2="805.4" y2="327.0"/>
<line x1="486.3" y1="259.7" x2="805.4" y2="259.7"/>
<line x1="486.3" y1="192.4" x2="805.4" y2="192.4"/>
<line x1="486.3" y1="125.0" x2="805.4" y2="125.0"/>
<line x1="486.3" y1="57.7" x2="805.4" y2="57.7"/>
<line x1="500.2" y1="52.5" x2="500.2" y2="335.7"/>
<line x1="572.9" y1="52.5" x2="572.9" y2="335.7"/>
<line x1="645.6" y1="52.5" x2="645.6" y2="335.7"/>
<line x1="718.3" y1="52.5" x2="718.3" y2="335.7"/>
<line x1="791.0" y1="52.5" x2="791.0" y2="335.7"/>
</g>
<g font-family="Liberation Sans" font-size="5" fill="#555" text-anchor="middle">
<text x="481.3" y="328.8">0</text>
<text x="481.3" y="261.5">2</text>
<text x="481.3" y="194.2">4</text>
<text x="481.3" y="126.8">6</text>
<text x="481.3" y="59.5">8</text>
<text x="500.2" y="341">0.00</text>
<text x="572.9" y="341">0.25</text>
<text x="645.6" y="341">0.50</text>
<text x="718.3" y="341">0.75</text>
<text x="791.0" y="341">1.00</text>
</g>
<text x="645.6" y="349.5" font-family="Liberation Sans" font-size="6.5" fill="#222" text-anchor="middle">Impact</text>
<text transform="translate(474.5,193) rotate(-90)" font-family="Liberation Sans" font-size="6.5" fill="#222" text-anchor="middle">&#8722;log<tspan font-size="4.3" dy="1.5">10</tspan><tspan dy="-1.5"> </tspan><tspan font-style="italic">P</tspan>-value</text>
<circle cx="500.2" cy="273.7" r="5.3" fill="#fdd98e" stroke="#262626" stroke-width="0.9"/>
<circle cx="500.2" cy="281" r="5.3" fill="#fdd98e" stroke="#262626" stroke-width="0.9"/>
<circle cx="500.2" cy="284" r="5.3" fill="#fdd98e" stroke="#262626" stroke-width="0.9"/>
<circle cx="500.2" cy="287" r="5.3" fill="#fdd98e" stroke="#262626" stroke-width="0.9"/>
<circle cx="500.2" cy="290" r="5.3" fill="#fdd98e" stroke="#262626" stroke-width="0.9"/>
<circle cx="500.2" cy="293" r="5.3" fill="#fdd98e" stroke="#262626" stroke-width="0.9"/>
<circle cx="504" cy="297.3" r="5.3" fill="#fdd98e" stroke="#262626" stroke-width="0.9"/>
<circle cx="500.2" cy="300" r="5.3" fill="#fdd98e" stroke="#262626" stroke-width="0.9"/>
<circle cx="500.2" cy="303" r="5.3" fill="#fdd98e" stroke="#262626" stroke-width="0.9"/>
<circle cx="500.2" cy="305.5" r="5.3" fill="#fdd98e" stroke="#262626" stroke-width="0.9"/>
<circle cx="500.2" cy="313" r="5.3" fill="#fdd98e" stroke="#262626" stroke-width="0.9"/>
<circle cx="500.2" cy="268.8" r="5.3" fill="#fcca80" stroke="#262626" stroke-width="0.9"/>
<circle cx="500.2" cy="261.2" r="5.3" fill="#fcc47a" stroke="#262626" stroke-width="0.9"/>
<circle cx="510.4" cy="321" r="5.9" fill="#fddb90" stroke="#262626" stroke-width="0.9"/>
<circle cx="525.2" cy="304.1" r="6.8" fill="#fdd68b" stroke="#262626" stroke-width="0.9"/>
<circle cx="500.2" cy="248.7" r="5.3" fill="#fbb46a" stroke="#262626" stroke-width="0.9"/>
<circle cx="514.4" cy="245.5" r="6.2" fill="#fbb46a" stroke="#262626" stroke-width="0.9"/>
<circle cx="508.8" cy="252.2" r="5.8" fill="#fbb870" stroke="#262626" stroke-width="0.9"/>
<circle cx="624.6" cy="270.1" r="8.5" fill="#fcc67c" stroke="#262626" stroke-width="0.9"/>
<circle cx="554.2" cy="216.9" r="7.75" fill="#f89e58" stroke="#262626" stroke-width="0.9"/>
<circle cx="791" cy="195.7" r="10.4" fill="#f79752" stroke="#262626" stroke-width="0.9"/>
<circle cx="552" cy="64" r="7.2" fill="#e8402a" stroke="#262626" stroke-width="0.9"/>
<line x1="552" y1="64" x2="547.0" y2="69.5" stroke="#777" stroke-width="0.6"/>
<rect x="514.2" y="71.3" width="53.4" height="7.2" rx="1" fill="#e8402a" stroke="#b07a3a" stroke-width="0.4"/>
<text x="540.9" y="76.6" font-family="Liberation Sans" font-size="4.9" fill="#111" text-anchor="middle" textLength="49.4">Pyrimidine metabolism</text>
<line x1="554.2" y1="216.9" x2="549.2" y2="222.4" stroke="#777" stroke-width="0.6"/>
<rect x="505.1" y="223.7" width="75.6" height="7.1" rx="1" fill="#f89e58" stroke="#b07a3a" stroke-width="0.4"/>
<text x="542.9" y="228.9" font-family="Liberation Sans" font-size="4.9" fill="#111" text-anchor="middle" textLength="71.6">Glycerophospholipid metabolism</text>
<line x1="624.6" y1="270.1" x2="619.6" y2="275.6" stroke="#777" stroke-width="0.6"/>
<rect x="571.5" y="277" width="84.5" height="6.9" rx="1" fill="#fcc67c" stroke="#b07a3a" stroke-width="0.4"/>
<text x="613.8" y="282.1" font-family="Liberation Sans" font-size="4.9" fill="#111" text-anchor="middle" textLength="80.5">Taurine and hypotaurine metabolism</text>
<line x1="791" y1="195.7" x2="784.7" y2="196.1" stroke="#777" stroke-width="0.6"/>
<rect x="710.3" y="192.6" width="74.4" height="6.9" rx="1" fill="#f79752" stroke="#b07a3a" stroke-width="0.4"/>
<text x="747.5" y="197.8" font-family="Liberation Sans" font-size="4.9" fill="#111" text-anchor="middle" textLength="70.4">alpha-Linolenic acid metabolism</text>
<line x1="525.2" y1="304.1" x2="531.7" y2="304.1" stroke="#777" stroke-width="0.6"/>
<rect x="531.7" y="300.7" width="85.5" height="6.8" rx="1" fill="#fdd68b" stroke="#b07a3a" stroke-width="0.4"/>
<text x="574.5" y="305.8" font-family="Liberation Sans" font-size="4.9" fill="#111" text-anchor="middle" textLength="81.5">Cysteine and methionine metabolism</text>
<text x="831.4" y="155" font-family="Liberation Sans" font-size="6.5" fill="#222" text-anchor="middle">Impact</text>
<circle cx="828.8" cy="164.2" r="5.5" fill="none" stroke="#222" stroke-width="0.8"/>
<circle cx="828.8" cy="183.9" r="10.8" fill="none" stroke="#222" stroke-width="0.8"/>
<text x="844.7" y="166" font-family="Liberation Sans" font-size="5" fill="#444" text-anchor="middle">0</text>
<text x="844.7" y="185.8" font-family="Liberation Sans" font-size="5" fill="#444" text-anchor="middle">1</text>
<defs><linearGradient id="cg" x1="0" x2="1"><stop offset="0" stop-color="#fde49a"/><stop offset="0.5" stop-color="#f8a35c"/><stop offset="1" stop-color="#e8402a"/></linearGradient></defs>
<text x="841" y="216.5" font-family="Liberation Sans" font-size="6.3" fill="#222" text-anchor="middle">&#8722;log<tspan font-size="4.2" dy="1.5">10</tspan><tspan dy="-1.5"> </tspan><tspan font-style="italic">P</tspan>-value</text>
<rect x="815.4" y="219.7" width="51.5" height="9.7" fill="url(#cg)"/>
<text x="827.4" y="236.5" font-family="Liberation Sans" font-size="5" fill="#444" text-anchor="middle">2</text>
<text x="840.8" y="236.5" font-family="Liberation Sans" font-size="5" fill="#444" text-anchor="middle">4</text>
<text x="854.2" y="236.5" font-family="Liberation Sans" font-size="5" fill="#444" text-anchor="middle">6</text>
</svg>
<div class="cap" style="left:94.5px;top:391.5px">代谢组和转录组关联分析</div>
<div class="cap" style="left:573.3px;top:390.6px">差异代谢物通路分析</div>
</body></html>
